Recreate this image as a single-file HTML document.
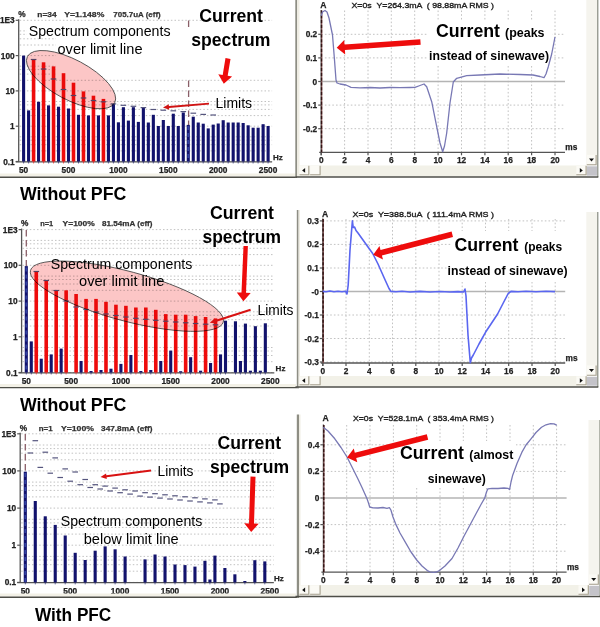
<!DOCTYPE html>
<html><head><meta charset="utf-8"><title>Current spectrum with and without PFC</title>
<style>
html,body{margin:0;padding:0;background:#fff;}
body{width:600px;height:627px;overflow:hidden;font-family:"Liberation Sans",sans-serif;}
svg{display:block;filter:blur(0.45px);}
</style></head><body>
<svg width="600" height="627" viewBox="0 0 600 627" font-family="Liberation Sans, sans-serif">
<rect width="600" height="627" fill="#fff"/>
<line x1="19.7" y1="161.5" x2="272.1" y2="161.5" stroke="#c2c2c2" stroke-width="1" stroke-dasharray="1.5 2.1"/>
<line x1="19.7" y1="150.9" x2="272.1" y2="150.9" stroke="#c2c2c2" stroke-width="1" stroke-dasharray="1.5 2.1"/>
<line x1="19.7" y1="144.7" x2="272.1" y2="144.7" stroke="#c2c2c2" stroke-width="1" stroke-dasharray="1.5 2.1"/>
<line x1="19.7" y1="140.2" x2="272.1" y2="140.2" stroke="#c2c2c2" stroke-width="1" stroke-dasharray="1.5 2.1"/>
<line x1="19.7" y1="136.8" x2="272.1" y2="136.8" stroke="#c2c2c2" stroke-width="1" stroke-dasharray="1.5 2.1"/>
<line x1="19.7" y1="126.2" x2="272.1" y2="126.2" stroke="#c2c2c2" stroke-width="1" stroke-dasharray="1.5 2.1"/>
<line x1="19.7" y1="115.6" x2="272.1" y2="115.6" stroke="#c2c2c2" stroke-width="1" stroke-dasharray="1.5 2.1"/>
<line x1="19.7" y1="109.4" x2="272.1" y2="109.4" stroke="#c2c2c2" stroke-width="1" stroke-dasharray="1.5 2.1"/>
<line x1="19.7" y1="104.9" x2="272.1" y2="104.9" stroke="#c2c2c2" stroke-width="1" stroke-dasharray="1.5 2.1"/>
<line x1="19.7" y1="101.5" x2="272.1" y2="101.5" stroke="#c2c2c2" stroke-width="1" stroke-dasharray="1.5 2.1"/>
<line x1="19.7" y1="90.9" x2="272.1" y2="90.9" stroke="#c2c2c2" stroke-width="1" stroke-dasharray="1.5 2.1"/>
<line x1="19.7" y1="80.3" x2="272.1" y2="80.3" stroke="#c2c2c2" stroke-width="1" stroke-dasharray="1.5 2.1"/>
<line x1="19.7" y1="74.1" x2="272.1" y2="74.1" stroke="#c2c2c2" stroke-width="1" stroke-dasharray="1.5 2.1"/>
<line x1="19.7" y1="69.6" x2="272.1" y2="69.6" stroke="#c2c2c2" stroke-width="1" stroke-dasharray="1.5 2.1"/>
<line x1="19.7" y1="66.2" x2="272.1" y2="66.2" stroke="#c2c2c2" stroke-width="1" stroke-dasharray="1.5 2.1"/>
<line x1="19.7" y1="55.6" x2="272.1" y2="55.6" stroke="#c2c2c2" stroke-width="1" stroke-dasharray="1.5 2.1"/>
<line x1="19.7" y1="45.0" x2="272.1" y2="45.0" stroke="#c2c2c2" stroke-width="1" stroke-dasharray="1.5 2.1"/>
<line x1="19.7" y1="38.8" x2="272.1" y2="38.8" stroke="#c2c2c2" stroke-width="1" stroke-dasharray="1.5 2.1"/>
<line x1="19.7" y1="34.3" x2="272.1" y2="34.3" stroke="#c2c2c2" stroke-width="1" stroke-dasharray="1.5 2.1"/>
<line x1="19.7" y1="30.9" x2="272.1" y2="30.9" stroke="#c2c2c2" stroke-width="1" stroke-dasharray="1.5 2.1"/>
<line x1="19.7" y1="20.3" x2="272.1" y2="20.3" stroke="#c2c2c2" stroke-width="1" stroke-dasharray="1.5 2.1"/>
<line x1="188.6" y1="20.5" x2="188.6" y2="125" stroke="#8a5f68" stroke-width="1.3" stroke-dasharray="6.5 3.5"/>
<rect x="186.5" y="27.5" width="105.5" height="51.5" fill="#fff"/>
<rect x="56" y="24" width="131" height="54.5" fill="#fff"/>
<rect x="27" y="24" width="146" height="14" fill="#fff"/>
<line x1="18.7" y1="19.3" x2="18.7" y2="162.0" stroke="#555" stroke-width="1.3"/>
<line x1="15.7" y1="161.8" x2="272.1" y2="161.8" stroke="#555" stroke-width="1.2"/>
<line x1="15.7" y1="20.3" x2="18.7" y2="20.3" stroke="#555" stroke-width="1.2"/>
<line x1="15.7" y1="55.6" x2="18.7" y2="55.6" stroke="#555" stroke-width="1.2"/>
<line x1="15.7" y1="90.9" x2="18.7" y2="90.9" stroke="#555" stroke-width="1.2"/>
<line x1="15.7" y1="126.2" x2="18.7" y2="126.2" stroke="#555" stroke-width="1.2"/>
<line x1="15.7" y1="161.5" x2="18.7" y2="161.5" stroke="#555" stroke-width="1.2"/>
<text x="14.7" y="23.3" font-size="8.3" font-weight="bold" text-anchor="end" fill="#222"  stroke="#222" stroke-width="0.25">1E3</text>
<text x="14.7" y="58.6" font-size="8.3" font-weight="bold" text-anchor="end" fill="#222"  stroke="#222" stroke-width="0.25">100</text>
<text x="14.7" y="93.9" font-size="8.3" font-weight="bold" text-anchor="end" fill="#222"  stroke="#222" stroke-width="0.25">10</text>
<text x="14.7" y="129.2" font-size="8.3" font-weight="bold" text-anchor="end" fill="#222"  stroke="#222" stroke-width="0.25">1</text>
<text x="14.7" y="164.5" font-size="8.3" font-weight="bold" text-anchor="end" fill="#222"  stroke="#222" stroke-width="0.25">0.1</text>
<text x="23.6" y="173.1" font-size="8.3" font-weight="bold" text-anchor="middle" fill="#222"  stroke="#222" stroke-width="0.25">50</text>
<text x="68.5" y="173.1" font-size="8.3" font-weight="bold" text-anchor="middle" fill="#222"  stroke="#222" stroke-width="0.25">500</text>
<text x="118.4" y="173.1" font-size="8.3" font-weight="bold" text-anchor="middle" fill="#222"  stroke="#222" stroke-width="0.25">1000</text>
<text x="168.3" y="173.1" font-size="8.3" font-weight="bold" text-anchor="middle" fill="#222"  stroke="#222" stroke-width="0.25">1500</text>
<text x="218.2" y="173.1" font-size="8.3" font-weight="bold" text-anchor="middle" fill="#222"  stroke="#222" stroke-width="0.25">2000</text>
<text x="268.1" y="173.1" font-size="8.3" font-weight="bold" text-anchor="middle" fill="#222"  stroke="#222" stroke-width="0.25">2500</text>
<text x="277.8" y="159.7" font-size="8" font-weight="bold" text-anchor="middle" fill="#222"  stroke="#222" stroke-width="0.25">Hz</text>
<text x="18.2" y="17.1" font-size="8.3" font-weight="bold" text-anchor="start" fill="#222"  stroke="#222" stroke-width="0.25">%</text>
<text x="37.3" y="17.0" font-size="8" font-weight="bold" text-anchor="start" fill="#333" textLength="19.4" lengthAdjust="spacingAndGlyphs"  stroke="#333" stroke-width="0.25">n=34</text>
<text x="64.3" y="17.0" font-size="8" font-weight="bold" text-anchor="start" fill="#333" textLength="40.0" lengthAdjust="spacingAndGlyphs"  stroke="#333" stroke-width="0.25">Y=1.148%</text>
<text x="113.3" y="17.0" font-size="8" font-weight="bold" text-anchor="start" fill="#333" textLength="47.4" lengthAdjust="spacingAndGlyphs"  stroke="#333" stroke-width="0.25">705.7uA (eff)</text>
<rect x="22.05" y="55.6" width="3.1" height="105.9" fill="#12126c"/>
<line x1="23.6" y1="161.5" x2="23.6" y2="163.5" stroke="#12126c" stroke-width="1" opacity="0.6"/>
<rect x="27.04" y="110.4" width="3.1" height="51.1" fill="#12126c"/>
<line x1="28.6" y1="161.5" x2="28.6" y2="163.5" stroke="#12126c" stroke-width="1" opacity="0.6"/>
<rect x="31.78" y="59.5" width="3.6" height="102.0" fill="#ee0c0c"/>
<line x1="33.6" y1="161.5" x2="33.6" y2="163.5" stroke="#ee0c0c" stroke-width="1" opacity="0.6"/>
<rect x="37.02" y="101.8" width="3.1" height="59.7" fill="#12126c"/>
<line x1="38.6" y1="161.5" x2="38.6" y2="163.5" stroke="#12126c" stroke-width="1" opacity="0.6"/>
<rect x="41.76" y="62.3" width="3.6" height="99.2" fill="#ee0c0c"/>
<line x1="43.6" y1="161.5" x2="43.6" y2="163.5" stroke="#ee0c0c" stroke-width="1" opacity="0.6"/>
<rect x="47.00" y="105.4" width="3.1" height="56.1" fill="#12126c"/>
<line x1="48.6" y1="161.5" x2="48.6" y2="163.5" stroke="#12126c" stroke-width="1" opacity="0.6"/>
<rect x="51.74" y="66.4" width="3.6" height="95.1" fill="#ee0c0c"/>
<line x1="53.5" y1="161.5" x2="53.5" y2="163.5" stroke="#ee0c0c" stroke-width="1" opacity="0.6"/>
<rect x="56.98" y="106.7" width="3.1" height="54.8" fill="#12126c"/>
<line x1="58.5" y1="161.5" x2="58.5" y2="163.5" stroke="#12126c" stroke-width="1" opacity="0.6"/>
<rect x="61.72" y="73.2" width="3.6" height="88.3" fill="#ee0c0c"/>
<line x1="63.5" y1="161.5" x2="63.5" y2="163.5" stroke="#ee0c0c" stroke-width="1" opacity="0.6"/>
<rect x="66.96" y="108.5" width="3.1" height="53.0" fill="#12126c"/>
<line x1="68.5" y1="161.5" x2="68.5" y2="163.5" stroke="#12126c" stroke-width="1" opacity="0.6"/>
<rect x="71.70" y="82.7" width="3.6" height="78.8" fill="#ee0c0c"/>
<line x1="73.5" y1="161.5" x2="73.5" y2="163.5" stroke="#ee0c0c" stroke-width="1" opacity="0.6"/>
<rect x="76.94" y="114.8" width="3.1" height="46.7" fill="#12126c"/>
<line x1="78.5" y1="161.5" x2="78.5" y2="163.5" stroke="#12126c" stroke-width="1" opacity="0.6"/>
<rect x="81.68" y="91.4" width="3.6" height="70.1" fill="#ee0c0c"/>
<line x1="83.5" y1="161.5" x2="83.5" y2="163.5" stroke="#ee0c0c" stroke-width="1" opacity="0.6"/>
<rect x="86.92" y="115.4" width="3.1" height="46.1" fill="#12126c"/>
<line x1="88.5" y1="161.5" x2="88.5" y2="163.5" stroke="#12126c" stroke-width="1" opacity="0.6"/>
<rect x="91.66" y="95.7" width="3.6" height="65.8" fill="#ee0c0c"/>
<line x1="93.5" y1="161.5" x2="93.5" y2="163.5" stroke="#ee0c0c" stroke-width="1" opacity="0.6"/>
<rect x="96.90" y="115.4" width="3.1" height="46.1" fill="#12126c"/>
<line x1="98.5" y1="161.5" x2="98.5" y2="163.5" stroke="#12126c" stroke-width="1" opacity="0.6"/>
<rect x="101.64" y="98.9" width="3.6" height="62.6" fill="#ee0c0c"/>
<line x1="103.4" y1="161.5" x2="103.4" y2="163.5" stroke="#ee0c0c" stroke-width="1" opacity="0.6"/>
<rect x="106.88" y="115.4" width="3.1" height="46.1" fill="#12126c"/>
<line x1="108.4" y1="161.5" x2="108.4" y2="163.5" stroke="#12126c" stroke-width="1" opacity="0.6"/>
<rect x="111.87" y="103.9" width="3.1" height="57.6" fill="#12126c"/>
<line x1="113.4" y1="161.5" x2="113.4" y2="163.5" stroke="#12126c" stroke-width="1" opacity="0.6"/>
<rect x="116.86" y="122.3" width="3.1" height="39.2" fill="#12126c"/>
<line x1="118.4" y1="161.5" x2="118.4" y2="163.5" stroke="#12126c" stroke-width="1" opacity="0.6"/>
<rect x="121.85" y="107.2" width="3.1" height="54.3" fill="#12126c"/>
<line x1="123.4" y1="161.5" x2="123.4" y2="163.5" stroke="#12126c" stroke-width="1" opacity="0.6"/>
<rect x="126.84" y="120.6" width="3.1" height="40.9" fill="#12126c"/>
<line x1="128.4" y1="161.5" x2="128.4" y2="163.5" stroke="#12126c" stroke-width="1" opacity="0.6"/>
<rect x="131.83" y="107.2" width="3.1" height="54.3" fill="#12126c"/>
<line x1="133.4" y1="161.5" x2="133.4" y2="163.5" stroke="#12126c" stroke-width="1" opacity="0.6"/>
<rect x="136.82" y="121.9" width="3.1" height="39.6" fill="#12126c"/>
<line x1="138.4" y1="161.5" x2="138.4" y2="163.5" stroke="#12126c" stroke-width="1" opacity="0.6"/>
<rect x="141.81" y="107.8" width="3.1" height="53.7" fill="#12126c"/>
<line x1="143.4" y1="161.5" x2="143.4" y2="163.5" stroke="#12126c" stroke-width="1" opacity="0.6"/>
<rect x="146.80" y="122.5" width="3.1" height="39.0" fill="#12126c"/>
<line x1="148.3" y1="161.5" x2="148.3" y2="163.5" stroke="#12126c" stroke-width="1" opacity="0.6"/>
<rect x="151.79" y="114.8" width="3.1" height="46.7" fill="#12126c"/>
<line x1="153.3" y1="161.5" x2="153.3" y2="163.5" stroke="#12126c" stroke-width="1" opacity="0.6"/>
<rect x="156.78" y="126.0" width="3.1" height="35.5" fill="#12126c"/>
<line x1="158.3" y1="161.5" x2="158.3" y2="163.5" stroke="#12126c" stroke-width="1" opacity="0.6"/>
<rect x="161.77" y="120.0" width="3.1" height="41.5" fill="#12126c"/>
<line x1="163.3" y1="161.5" x2="163.3" y2="163.5" stroke="#12126c" stroke-width="1" opacity="0.6"/>
<rect x="166.76" y="126.0" width="3.1" height="35.5" fill="#12126c"/>
<line x1="168.3" y1="161.5" x2="168.3" y2="163.5" stroke="#12126c" stroke-width="1" opacity="0.6"/>
<rect x="171.75" y="113.7" width="3.1" height="47.8" fill="#12126c"/>
<line x1="173.3" y1="161.5" x2="173.3" y2="163.5" stroke="#12126c" stroke-width="1" opacity="0.6"/>
<rect x="176.74" y="126.0" width="3.1" height="35.5" fill="#12126c"/>
<line x1="178.3" y1="161.5" x2="178.3" y2="163.5" stroke="#12126c" stroke-width="1" opacity="0.6"/>
<rect x="181.73" y="112.5" width="3.1" height="49.0" fill="#12126c"/>
<line x1="183.3" y1="161.5" x2="183.3" y2="163.5" stroke="#12126c" stroke-width="1" opacity="0.6"/>
<rect x="186.72" y="124.9" width="3.1" height="36.6" fill="#12126c"/>
<line x1="188.3" y1="161.5" x2="188.3" y2="163.5" stroke="#12126c" stroke-width="1" opacity="0.6"/>
<rect x="191.71" y="116.7" width="3.1" height="44.8" fill="#12126c"/>
<line x1="193.3" y1="161.5" x2="193.3" y2="163.5" stroke="#12126c" stroke-width="1" opacity="0.6"/>
<rect x="196.70" y="122.5" width="3.1" height="39.0" fill="#12126c"/>
<line x1="198.2" y1="161.5" x2="198.2" y2="163.5" stroke="#12126c" stroke-width="1" opacity="0.6"/>
<rect x="201.69" y="123.7" width="3.1" height="37.8" fill="#12126c"/>
<line x1="203.2" y1="161.5" x2="203.2" y2="163.5" stroke="#12126c" stroke-width="1" opacity="0.6"/>
<rect x="206.68" y="128.4" width="3.1" height="33.1" fill="#12126c"/>
<line x1="208.2" y1="161.5" x2="208.2" y2="163.5" stroke="#12126c" stroke-width="1" opacity="0.6"/>
<rect x="211.67" y="124.6" width="3.1" height="36.9" fill="#12126c"/>
<line x1="213.2" y1="161.5" x2="213.2" y2="163.5" stroke="#12126c" stroke-width="1" opacity="0.6"/>
<rect x="216.66" y="123.5" width="3.1" height="38.0" fill="#12126c"/>
<line x1="218.2" y1="161.5" x2="218.2" y2="163.5" stroke="#12126c" stroke-width="1" opacity="0.6"/>
<rect x="221.65" y="120.2" width="3.1" height="41.3" fill="#12126c"/>
<line x1="223.2" y1="161.5" x2="223.2" y2="163.5" stroke="#12126c" stroke-width="1" opacity="0.6"/>
<rect x="226.64" y="122.5" width="3.1" height="39.0" fill="#12126c"/>
<line x1="228.2" y1="161.5" x2="228.2" y2="163.5" stroke="#12126c" stroke-width="1" opacity="0.6"/>
<rect x="231.63" y="122.5" width="3.1" height="39.0" fill="#12126c"/>
<line x1="233.2" y1="161.5" x2="233.2" y2="163.5" stroke="#12126c" stroke-width="1" opacity="0.6"/>
<rect x="236.62" y="122.5" width="3.1" height="39.0" fill="#12126c"/>
<line x1="238.2" y1="161.5" x2="238.2" y2="163.5" stroke="#12126c" stroke-width="1" opacity="0.6"/>
<rect x="241.61" y="123.0" width="3.1" height="38.5" fill="#12126c"/>
<line x1="243.2" y1="161.5" x2="243.2" y2="163.5" stroke="#12126c" stroke-width="1" opacity="0.6"/>
<rect x="246.60" y="125.3" width="3.1" height="36.2" fill="#12126c"/>
<line x1="248.2" y1="161.5" x2="248.2" y2="163.5" stroke="#12126c" stroke-width="1" opacity="0.6"/>
<rect x="251.59" y="127.7" width="3.1" height="33.8" fill="#12126c"/>
<line x1="253.1" y1="161.5" x2="253.1" y2="163.5" stroke="#12126c" stroke-width="1" opacity="0.6"/>
<rect x="256.58" y="127.7" width="3.1" height="33.8" fill="#12126c"/>
<line x1="258.1" y1="161.5" x2="258.1" y2="163.5" stroke="#12126c" stroke-width="1" opacity="0.6"/>
<rect x="261.57" y="124.2" width="3.1" height="37.3" fill="#12126c"/>
<line x1="263.1" y1="161.5" x2="263.1" y2="163.5" stroke="#12126c" stroke-width="1" opacity="0.6"/>
<rect x="266.56" y="126.0" width="3.1" height="35.5" fill="#12126c"/>
<line x1="268.1" y1="161.5" x2="268.1" y2="163.5" stroke="#12126c" stroke-width="1" opacity="0.6"/>
<line x1="188.3" y1="126" x2="188.3" y2="161.5" stroke="#3c50b0" stroke-width="1.7" stroke-dasharray="4 3" opacity="0.8"/>
<line x1="30.8" y1="59.5" x2="36.4" y2="59.5" stroke="#55557e" stroke-width="1.2"/>
<line x1="40.8" y1="69.0" x2="46.4" y2="69.0" stroke="#55557e" stroke-width="1.2"/>
<line x1="50.7" y1="79.0" x2="56.3" y2="79.0" stroke="#55557e" stroke-width="1.2"/>
<line x1="60.7" y1="89.5" x2="66.3" y2="89.5" stroke="#55557e" stroke-width="1.2"/>
<line x1="70.7" y1="95.5" x2="76.3" y2="95.5" stroke="#55557e" stroke-width="1.2"/>
<line x1="80.7" y1="98.0" x2="86.3" y2="98.0" stroke="#55557e" stroke-width="1.2"/>
<line x1="90.7" y1="100.5" x2="96.3" y2="100.5" stroke="#55557e" stroke-width="1.2"/>
<line x1="100.6" y1="101.8" x2="106.2" y2="101.8" stroke="#55557e" stroke-width="1.2"/>
<line x1="110.6" y1="103.9" x2="116.2" y2="103.9" stroke="#55557e" stroke-width="1.2"/>
<line x1="120.6" y1="105.3" x2="126.2" y2="105.3" stroke="#55557e" stroke-width="1.2"/>
<line x1="130.6" y1="106.3" x2="136.2" y2="106.3" stroke="#55557e" stroke-width="1.2"/>
<line x1="140.6" y1="107.6" x2="146.2" y2="107.6" stroke="#55557e" stroke-width="1.2"/>
<line x1="150.5" y1="109.5" x2="156.1" y2="109.5" stroke="#55557e" stroke-width="1.2"/>
<line x1="160.5" y1="110.2" x2="166.1" y2="110.2" stroke="#55557e" stroke-width="1.2"/>
<line x1="170.5" y1="110.8" x2="176.1" y2="110.8" stroke="#55557e" stroke-width="1.2"/>
<line x1="180.5" y1="111.6" x2="186.1" y2="111.6" stroke="#55557e" stroke-width="1.2"/>
<line x1="190.5" y1="113.2" x2="196.1" y2="113.2" stroke="#55557e" stroke-width="1.2"/>
<line x1="200.4" y1="114.4" x2="206.0" y2="114.4" stroke="#55557e" stroke-width="1.2"/>
<line x1="210.4" y1="115.0" x2="216.0" y2="115.0" stroke="#55557e" stroke-width="1.2"/>
<ellipse cx="71.05" cy="79.65" rx="49.4" ry="20" transform="rotate(28 71.05 79.65)" fill="#fcc6c6" stroke="#444" stroke-width="0.8" style="mix-blend-mode:multiply"/>
<text x="199.3" y="21.5" font-size="17.7" font-weight="bold" text-anchor="start" fill="#000" textLength="63.7" lengthAdjust="spacingAndGlyphs" >Current</text>
<text x="191.3" y="46.4" font-size="17.7" font-weight="bold" text-anchor="start" fill="#000" textLength="79.2" lengthAdjust="spacingAndGlyphs" >spectrum</text>
<text x="28.8" y="35.8" font-size="14" font-weight="normal" text-anchor="start" fill="#000" textLength="141.7" lengthAdjust="spacingAndGlyphs" >Spectrum components</text>
<text x="57.5" y="54.1" font-size="14" font-weight="normal" text-anchor="start" fill="#000" textLength="85" lengthAdjust="spacingAndGlyphs" >over limit line</text>
<text x="215.5" y="108.3" font-size="14" font-weight="normal" text-anchor="start" fill="#000" textLength="36.5" lengthAdjust="spacingAndGlyphs" >Limits</text>
<polygon points="225.5,58.1 222.7,75.0 218.3,74.3 223.8,83.8 232.1,76.6 227.7,75.8 230.5,58.9" fill="#ee0c0c" stroke="none"/>
<polygon points="208.9,102.7 168.9,106.0 168.7,104.3 163.0,107.5 169.2,109.7 169.1,107.9 209.1,104.5" fill="#d01414" stroke="none"/>
<text x="20" y="200" font-size="17.5" font-weight="bold" text-anchor="start" fill="#000" textLength="106.3" lengthAdjust="spacingAndGlyphs" >Without PFC</text>
<rect x="0" y="173.5" width="296" height="3.2" fill="#f3f1e7"/>
<line x1="0" y1="177.2" x2="297" y2="177.2" stroke="#4e4e48" stroke-width="1.4"/>
<rect x="295.3" y="0" width="1.9" height="177.5" fill="#8e8e84"/>
<rect x="297.2" y="0" width="2.3" height="177.5" fill="#efede3"/>
<line x1="344.6" y1="10.5" x2="344.6" y2="152.3" stroke="#c2c2c2" stroke-width="1" stroke-dasharray="1.6 2.1"/>
<line x1="368.0" y1="10.5" x2="368.0" y2="152.3" stroke="#c2c2c2" stroke-width="1" stroke-dasharray="1.6 2.1"/>
<line x1="391.3" y1="10.5" x2="391.3" y2="152.3" stroke="#c2c2c2" stroke-width="1" stroke-dasharray="1.6 2.1"/>
<line x1="414.7" y1="10.5" x2="414.7" y2="152.3" stroke="#c2c2c2" stroke-width="1" stroke-dasharray="1.6 2.1"/>
<line x1="438.1" y1="10.5" x2="438.1" y2="152.3" stroke="#c2c2c2" stroke-width="1" stroke-dasharray="1.6 2.1"/>
<line x1="461.5" y1="10.5" x2="461.5" y2="152.3" stroke="#c2c2c2" stroke-width="1" stroke-dasharray="1.6 2.1"/>
<line x1="484.9" y1="10.5" x2="484.9" y2="152.3" stroke="#c2c2c2" stroke-width="1" stroke-dasharray="1.6 2.1"/>
<line x1="508.2" y1="10.5" x2="508.2" y2="152.3" stroke="#c2c2c2" stroke-width="1" stroke-dasharray="1.6 2.1"/>
<line x1="531.6" y1="10.5" x2="531.6" y2="152.3" stroke="#c2c2c2" stroke-width="1" stroke-dasharray="1.6 2.1"/>
<line x1="555.0" y1="10.5" x2="555.0" y2="152.3" stroke="#c2c2c2" stroke-width="1" stroke-dasharray="1.6 2.1"/>
<line x1="321.2" y1="34.3" x2="565.0" y2="34.3" stroke="#c2c2c2" stroke-width="1" stroke-dasharray="1.6 2.1"/>
<line x1="321.2" y1="57.9" x2="565.0" y2="57.9" stroke="#c2c2c2" stroke-width="1" stroke-dasharray="1.6 2.1"/>
<line x1="321.2" y1="105.1" x2="565.0" y2="105.1" stroke="#c2c2c2" stroke-width="1" stroke-dasharray="1.6 2.1"/>
<line x1="321.2" y1="128.7" x2="565.0" y2="128.7" stroke="#c2c2c2" stroke-width="1" stroke-dasharray="1.6 2.1"/>
<rect x="427" y="21" width="125" height="45" fill="#fff"/>
<line x1="321.2" y1="81.5" x2="565.0" y2="81.5" stroke="#b4b4b4" stroke-width="1.4"/>
<line x1="321.2" y1="10.0" x2="321.2" y2="155.3" stroke="#555" stroke-width="1.3"/>
<line x1="319.2" y1="152.3" x2="565.0" y2="152.3" stroke="#555" stroke-width="1.3"/>
<line x1="321.2" y1="152.3" x2="321.2" y2="155.3" stroke="#555" stroke-width="1.2"/>
<text x="321.2" y="163.3" font-size="8.3" font-weight="bold" text-anchor="middle" fill="#222"  stroke="#222" stroke-width="0.25">0</text>
<line x1="344.6" y1="152.3" x2="344.6" y2="155.3" stroke="#555" stroke-width="1.2"/>
<text x="344.6" y="163.3" font-size="8.3" font-weight="bold" text-anchor="middle" fill="#222"  stroke="#222" stroke-width="0.25">2</text>
<line x1="368.0" y1="152.3" x2="368.0" y2="155.3" stroke="#555" stroke-width="1.2"/>
<text x="368.0" y="163.3" font-size="8.3" font-weight="bold" text-anchor="middle" fill="#222"  stroke="#222" stroke-width="0.25">4</text>
<line x1="391.3" y1="152.3" x2="391.3" y2="155.3" stroke="#555" stroke-width="1.2"/>
<text x="391.3" y="163.3" font-size="8.3" font-weight="bold" text-anchor="middle" fill="#222"  stroke="#222" stroke-width="0.25">6</text>
<line x1="414.7" y1="152.3" x2="414.7" y2="155.3" stroke="#555" stroke-width="1.2"/>
<text x="414.7" y="163.3" font-size="8.3" font-weight="bold" text-anchor="middle" fill="#222"  stroke="#222" stroke-width="0.25">8</text>
<line x1="438.1" y1="152.3" x2="438.1" y2="155.3" stroke="#555" stroke-width="1.2"/>
<text x="438.1" y="163.3" font-size="8.3" font-weight="bold" text-anchor="middle" fill="#222"  stroke="#222" stroke-width="0.25">10</text>
<line x1="461.5" y1="152.3" x2="461.5" y2="155.3" stroke="#555" stroke-width="1.2"/>
<text x="461.5" y="163.3" font-size="8.3" font-weight="bold" text-anchor="middle" fill="#222"  stroke="#222" stroke-width="0.25">12</text>
<line x1="484.9" y1="152.3" x2="484.9" y2="155.3" stroke="#555" stroke-width="1.2"/>
<text x="484.9" y="163.3" font-size="8.3" font-weight="bold" text-anchor="middle" fill="#222"  stroke="#222" stroke-width="0.25">14</text>
<line x1="508.2" y1="152.3" x2="508.2" y2="155.3" stroke="#555" stroke-width="1.2"/>
<text x="508.2" y="163.3" font-size="8.3" font-weight="bold" text-anchor="middle" fill="#222"  stroke="#222" stroke-width="0.25">16</text>
<line x1="531.6" y1="152.3" x2="531.6" y2="155.3" stroke="#555" stroke-width="1.2"/>
<text x="531.6" y="163.3" font-size="8.3" font-weight="bold" text-anchor="middle" fill="#222"  stroke="#222" stroke-width="0.25">18</text>
<line x1="555.0" y1="152.3" x2="555.0" y2="155.3" stroke="#555" stroke-width="1.2"/>
<text x="555.0" y="163.3" font-size="8.3" font-weight="bold" text-anchor="middle" fill="#222"  stroke="#222" stroke-width="0.25">20</text>
<line x1="318.2" y1="34.3" x2="321.2" y2="34.3" stroke="#555" stroke-width="1.2"/>
<text x="317.2" y="37.3" font-size="8.3" font-weight="bold" text-anchor="end" fill="#222"  stroke="#222" stroke-width="0.25">0.2</text>
<line x1="318.2" y1="57.9" x2="321.2" y2="57.9" stroke="#555" stroke-width="1.2"/>
<text x="317.2" y="60.9" font-size="8.3" font-weight="bold" text-anchor="end" fill="#222"  stroke="#222" stroke-width="0.25">0.1</text>
<line x1="318.2" y1="81.5" x2="321.2" y2="81.5" stroke="#555" stroke-width="1.2"/>
<text x="317.2" y="84.5" font-size="8.3" font-weight="bold" text-anchor="end" fill="#222"  stroke="#222" stroke-width="0.25">0</text>
<line x1="318.2" y1="105.1" x2="321.2" y2="105.1" stroke="#555" stroke-width="1.2"/>
<text x="317.2" y="108.1" font-size="8.3" font-weight="bold" text-anchor="end" fill="#222"  stroke="#222" stroke-width="0.25">-0.1</text>
<line x1="318.2" y1="128.7" x2="321.2" y2="128.7" stroke="#555" stroke-width="1.2"/>
<text x="317.2" y="131.7" font-size="8.3" font-weight="bold" text-anchor="end" fill="#222"  stroke="#222" stroke-width="0.25">-0.2</text>
<text x="571.3" y="150.1" font-size="8.3" font-weight="bold" text-anchor="middle" fill="#222"  stroke="#222" stroke-width="0.25">ms</text>
<text x="323.4" y="7.5" font-size="8.6" font-weight="bold" text-anchor="middle" fill="#222"  stroke="#222" stroke-width="0.25">A</text>
<text x="351.5" y="7.5" font-size="8" font-weight="normal" text-anchor="start" fill="#222" textLength="142.5" lengthAdjust="spacingAndGlyphs" xml:space="preserve" stroke="#222" stroke-width="0.35">X=0s  Y=264.3mA  ( 98.88mA RMS )</text>
<line x1="321.7" y1="10.5" x2="321.7" y2="152.3" stroke="#7c4a4a" stroke-width="1.2"/>
<line x1="321.5" y1="10.5" x2="321.5" y2="152.3" stroke="#331414" stroke-width="1.4" stroke-dasharray="3 1.8"/>
<polyline points="321.3,15.8 322.5,12.0 325.0,10.5 327.0,12.0 329.0,18.0 332.5,35.0 334.5,60.0 336.0,80.0 337.0,83.0 340.0,84.0 346.0,85.0 351.0,87.3 360.0,87.8 370.0,87.5 380.0,88.0 390.0,87.5 400.0,87.7 410.0,87.5 415.0,87.3 420.0,85.5 424.0,84.0 426.7,86.7 431.7,101.7 436.7,126.7 440.0,143.0 442.7,151.7 444.5,146.0 446.7,133.0 450.0,103.0 453.3,82.0 456.7,78.3 466.7,75.7 480.0,75.0 500.0,74.0 520.0,74.5 533.0,75.0 540.0,76.5 544.0,77.7 546.0,74.0 548.3,66.7 551.7,54.0 555.0,37.0" fill="none" stroke="#7878b4" stroke-width="1.3" stroke-linejoin="round"/>
<rect x="299.5" y="165.5" width="287.3" height="11" fill="#f2f1e8"/>
<rect x="299.5" y="165.8" width="9.3" height="9.0" fill="#fbfaf5"/>
<path d="M308.8,165.8 V174.8 H299.5" fill="none" stroke="#a59f8e" stroke-width="1.1"/>
<polygon points="305.1,168.1 305.1,172.7 302.1,170.4" fill="#111"/>
<rect x="310.1" y="165.8" width="10.0" height="9.0" fill="#fbfaf5"/>
<path d="M320.1,165.8 V174.8 H310.1" fill="none" stroke="#a59f8e" stroke-width="1.1"/>
<rect x="576.3" y="165.8" width="9.8" height="9.0" fill="#fbfaf5"/>
<path d="M586.1,165.8 V174.8 H576.3" fill="none" stroke="#a59f8e" stroke-width="1.1"/>
<polygon points="579.8,168.1 579.8,172.7 582.8,170.4" fill="#111"/>
<rect x="586.3" y="0" width="11.5" height="165.5" fill="#f5f4ee"/>
<rect x="586.8" y="154.9" width="9.3" height="9.8" fill="#fbfaf5"/>
<path d="M596.1,154.9 V164.7 H586.8" fill="none" stroke="#a59f8e" stroke-width="1.1"/>
<polygon points="589.0,158.5 594.0,158.5 591.5,161.5" fill="#111"/>
<rect x="587.0" y="166.3" width="10" height="9.4" fill="#c4c3c9"/>
<line x1="597.8" y1="0" x2="597.8" y2="177.0" stroke="#7d8176" stroke-width="1.1"/>
<line x1="295.5" y1="177.0" x2="598.3" y2="177.0" stroke="#4e4e48" stroke-width="1.4"/>
<text x="436" y="36.5" font-size="17.8" font-weight="bold" text-anchor="start" fill="#000" textLength="64" lengthAdjust="spacingAndGlyphs" >Current</text>
<text x="505" y="36.5" font-size="13.3" font-weight="bold" text-anchor="start" fill="#000" textLength="39.5" lengthAdjust="spacingAndGlyphs" >(peaks</text>
<text x="429" y="60" font-size="13.3" font-weight="bold" text-anchor="start" fill="#000" textLength="120" lengthAdjust="spacingAndGlyphs" >instead of sinewave)</text>
<polygon points="420.3,39.2 344.5,44.5 344.2,40.0 336.7,47.8 345.2,54.5 344.9,50.0 420.7,44.8" fill="#ee0c0c" stroke="none"/>
<line x1="22.6" y1="372.5" x2="274.3" y2="372.5" stroke="#c2c2c2" stroke-width="1" stroke-dasharray="1.5 2.1"/>
<line x1="22.6" y1="361.7" x2="274.3" y2="361.7" stroke="#c2c2c2" stroke-width="1" stroke-dasharray="1.5 2.1"/>
<line x1="22.6" y1="355.5" x2="274.3" y2="355.5" stroke="#c2c2c2" stroke-width="1" stroke-dasharray="1.5 2.1"/>
<line x1="22.6" y1="351.0" x2="274.3" y2="351.0" stroke="#c2c2c2" stroke-width="1" stroke-dasharray="1.5 2.1"/>
<line x1="22.6" y1="347.5" x2="274.3" y2="347.5" stroke="#c2c2c2" stroke-width="1" stroke-dasharray="1.5 2.1"/>
<line x1="22.6" y1="336.8" x2="274.3" y2="336.8" stroke="#c2c2c2" stroke-width="1" stroke-dasharray="1.5 2.1"/>
<line x1="22.6" y1="326.0" x2="274.3" y2="326.0" stroke="#c2c2c2" stroke-width="1" stroke-dasharray="1.5 2.1"/>
<line x1="22.6" y1="319.7" x2="274.3" y2="319.7" stroke="#c2c2c2" stroke-width="1" stroke-dasharray="1.5 2.1"/>
<line x1="22.6" y1="315.3" x2="274.3" y2="315.3" stroke="#c2c2c2" stroke-width="1" stroke-dasharray="1.5 2.1"/>
<line x1="22.6" y1="311.8" x2="274.3" y2="311.8" stroke="#c2c2c2" stroke-width="1" stroke-dasharray="1.5 2.1"/>
<line x1="22.6" y1="301.1" x2="274.3" y2="301.1" stroke="#c2c2c2" stroke-width="1" stroke-dasharray="1.5 2.1"/>
<line x1="22.6" y1="290.3" x2="274.3" y2="290.3" stroke="#c2c2c2" stroke-width="1" stroke-dasharray="1.5 2.1"/>
<line x1="22.6" y1="284.0" x2="274.3" y2="284.0" stroke="#c2c2c2" stroke-width="1" stroke-dasharray="1.5 2.1"/>
<line x1="22.6" y1="279.5" x2="274.3" y2="279.5" stroke="#c2c2c2" stroke-width="1" stroke-dasharray="1.5 2.1"/>
<line x1="22.6" y1="276.1" x2="274.3" y2="276.1" stroke="#c2c2c2" stroke-width="1" stroke-dasharray="1.5 2.1"/>
<line x1="22.6" y1="265.3" x2="274.3" y2="265.3" stroke="#c2c2c2" stroke-width="1" stroke-dasharray="1.5 2.1"/>
<line x1="22.6" y1="254.6" x2="274.3" y2="254.6" stroke="#c2c2c2" stroke-width="1" stroke-dasharray="1.5 2.1"/>
<line x1="22.6" y1="248.3" x2="274.3" y2="248.3" stroke="#c2c2c2" stroke-width="1" stroke-dasharray="1.5 2.1"/>
<line x1="22.6" y1="243.8" x2="274.3" y2="243.8" stroke="#c2c2c2" stroke-width="1" stroke-dasharray="1.5 2.1"/>
<line x1="22.6" y1="240.4" x2="274.3" y2="240.4" stroke="#c2c2c2" stroke-width="1" stroke-dasharray="1.5 2.1"/>
<line x1="22.6" y1="229.6" x2="274.3" y2="229.6" stroke="#c2c2c2" stroke-width="1" stroke-dasharray="1.5 2.1"/>
<line x1="26.3" y1="230" x2="26.3" y2="266" stroke="#8a5f68" stroke-width="1.3" stroke-dasharray="6.5 3.5"/>
<line x1="21.6" y1="228.6" x2="21.6" y2="373.0" stroke="#555" stroke-width="1.3"/>
<line x1="18.6" y1="372.8" x2="274.3" y2="372.8" stroke="#555" stroke-width="1.2"/>
<line x1="18.6" y1="229.6" x2="21.6" y2="229.6" stroke="#555" stroke-width="1.2"/>
<line x1="18.6" y1="265.3" x2="21.6" y2="265.3" stroke="#555" stroke-width="1.2"/>
<line x1="18.6" y1="301.1" x2="21.6" y2="301.1" stroke="#555" stroke-width="1.2"/>
<line x1="18.6" y1="336.8" x2="21.6" y2="336.8" stroke="#555" stroke-width="1.2"/>
<line x1="18.6" y1="372.5" x2="21.6" y2="372.5" stroke="#555" stroke-width="1.2"/>
<text x="17.6" y="232.6" font-size="8.3" font-weight="bold" text-anchor="end" fill="#222"  stroke="#222" stroke-width="0.25">1E3</text>
<text x="17.6" y="268.3" font-size="8.3" font-weight="bold" text-anchor="end" fill="#222"  stroke="#222" stroke-width="0.25">100</text>
<text x="17.6" y="304.1" font-size="8.3" font-weight="bold" text-anchor="end" fill="#222"  stroke="#222" stroke-width="0.25">10</text>
<text x="17.6" y="339.8" font-size="8.3" font-weight="bold" text-anchor="end" fill="#222"  stroke="#222" stroke-width="0.25">1</text>
<text x="17.6" y="375.5" font-size="8.3" font-weight="bold" text-anchor="end" fill="#222"  stroke="#222" stroke-width="0.25">0.1</text>
<text x="26.3" y="384.1" font-size="8.3" font-weight="bold" text-anchor="middle" fill="#222"  stroke="#222" stroke-width="0.25">50</text>
<text x="71.1" y="384.1" font-size="8.3" font-weight="bold" text-anchor="middle" fill="#222"  stroke="#222" stroke-width="0.25">500</text>
<text x="120.9" y="384.1" font-size="8.3" font-weight="bold" text-anchor="middle" fill="#222"  stroke="#222" stroke-width="0.25">1000</text>
<text x="170.7" y="384.1" font-size="8.3" font-weight="bold" text-anchor="middle" fill="#222"  stroke="#222" stroke-width="0.25">1500</text>
<text x="220.5" y="384.1" font-size="8.3" font-weight="bold" text-anchor="middle" fill="#222"  stroke="#222" stroke-width="0.25">2000</text>
<text x="270.3" y="384.1" font-size="8.3" font-weight="bold" text-anchor="middle" fill="#222"  stroke="#222" stroke-width="0.25">2500</text>
<text x="280.5" y="370.7" font-size="8" font-weight="bold" text-anchor="middle" fill="#222"  stroke="#222" stroke-width="0.25">Hz</text>
<text x="21.1" y="226.4" font-size="8.3" font-weight="bold" text-anchor="start" fill="#222"  stroke="#222" stroke-width="0.25">%</text>
<text x="40.2" y="226.3" font-size="8" font-weight="bold" text-anchor="start" fill="#333" textLength="13.0" lengthAdjust="spacingAndGlyphs"  stroke="#333" stroke-width="0.25">n=1</text>
<text x="62.6" y="226.3" font-size="8" font-weight="bold" text-anchor="start" fill="#333" textLength="32.2" lengthAdjust="spacingAndGlyphs"  stroke="#333" stroke-width="0.25">Y=100%</text>
<text x="102" y="226.3" font-size="8" font-weight="bold" text-anchor="start" fill="#333" textLength="50.5" lengthAdjust="spacingAndGlyphs"  stroke="#333" stroke-width="0.25">81.54mA (eff)</text>
<rect x="24.75" y="266.1" width="3.1" height="106.4" fill="#12126c"/>
<line x1="26.3" y1="372.5" x2="26.3" y2="374.5" stroke="#12126c" stroke-width="1" opacity="0.6"/>
<rect x="29.73" y="341.4" width="3.1" height="31.1" fill="#12126c"/>
<line x1="31.3" y1="372.5" x2="31.3" y2="374.5" stroke="#12126c" stroke-width="1" opacity="0.6"/>
<rect x="34.46" y="271.0" width="3.6" height="101.5" fill="#ee0c0c"/>
<line x1="36.3" y1="372.5" x2="36.3" y2="374.5" stroke="#ee0c0c" stroke-width="1" opacity="0.6"/>
<rect x="39.69" y="358.7" width="3.1" height="13.8" fill="#12126c"/>
<line x1="41.2" y1="372.5" x2="41.2" y2="374.5" stroke="#12126c" stroke-width="1" opacity="0.6"/>
<rect x="44.42" y="280.5" width="3.6" height="92.0" fill="#ee0c0c"/>
<line x1="46.2" y1="372.5" x2="46.2" y2="374.5" stroke="#ee0c0c" stroke-width="1" opacity="0.6"/>
<rect x="49.65" y="354.4" width="3.1" height="18.1" fill="#12126c"/>
<line x1="51.2" y1="372.5" x2="51.2" y2="374.5" stroke="#12126c" stroke-width="1" opacity="0.6"/>
<rect x="54.38" y="290.3" width="3.6" height="82.2" fill="#ee0c0c"/>
<line x1="56.2" y1="372.5" x2="56.2" y2="374.5" stroke="#ee0c0c" stroke-width="1" opacity="0.6"/>
<rect x="59.61" y="348.6" width="3.1" height="23.9" fill="#12126c"/>
<line x1="61.2" y1="372.5" x2="61.2" y2="374.5" stroke="#12126c" stroke-width="1" opacity="0.6"/>
<rect x="64.34" y="290.3" width="3.6" height="82.2" fill="#ee0c0c"/>
<line x1="66.1" y1="372.5" x2="66.1" y2="374.5" stroke="#ee0c0c" stroke-width="1" opacity="0.6"/>
<rect x="74.30" y="294.0" width="3.6" height="78.5" fill="#ee0c0c"/>
<line x1="76.1" y1="372.5" x2="76.1" y2="374.5" stroke="#ee0c0c" stroke-width="1" opacity="0.6"/>
<rect x="79.53" y="361.0" width="3.1" height="11.5" fill="#12126c"/>
<line x1="81.1" y1="372.5" x2="81.1" y2="374.5" stroke="#12126c" stroke-width="1" opacity="0.6"/>
<rect x="84.26" y="298.9" width="3.6" height="73.6" fill="#ee0c0c"/>
<line x1="86.1" y1="372.5" x2="86.1" y2="374.5" stroke="#ee0c0c" stroke-width="1" opacity="0.6"/>
<rect x="89.49" y="371.0" width="3.1" height="1.5" fill="#12126c"/>
<line x1="91.0" y1="372.5" x2="91.0" y2="374.5" stroke="#12126c" stroke-width="1" opacity="0.6"/>
<rect x="94.22" y="298.9" width="3.6" height="73.6" fill="#ee0c0c"/>
<line x1="96.0" y1="372.5" x2="96.0" y2="374.5" stroke="#ee0c0c" stroke-width="1" opacity="0.6"/>
<rect x="99.45" y="370.0" width="3.1" height="2.5" fill="#12126c"/>
<line x1="101.0" y1="372.5" x2="101.0" y2="374.5" stroke="#12126c" stroke-width="1" opacity="0.6"/>
<rect x="104.18" y="301.8" width="3.6" height="70.7" fill="#ee0c0c"/>
<line x1="106.0" y1="372.5" x2="106.0" y2="374.5" stroke="#ee0c0c" stroke-width="1" opacity="0.6"/>
<rect x="109.41" y="368.7" width="3.1" height="3.8" fill="#12126c"/>
<line x1="111.0" y1="372.5" x2="111.0" y2="374.5" stroke="#12126c" stroke-width="1" opacity="0.6"/>
<rect x="114.14" y="304.7" width="3.6" height="67.8" fill="#ee0c0c"/>
<line x1="115.9" y1="372.5" x2="115.9" y2="374.5" stroke="#ee0c0c" stroke-width="1" opacity="0.6"/>
<rect x="119.37" y="363.9" width="3.1" height="8.6" fill="#12126c"/>
<line x1="120.9" y1="372.5" x2="120.9" y2="374.5" stroke="#12126c" stroke-width="1" opacity="0.6"/>
<rect x="124.10" y="305.8" width="3.6" height="66.7" fill="#ee0c0c"/>
<line x1="125.9" y1="372.5" x2="125.9" y2="374.5" stroke="#ee0c0c" stroke-width="1" opacity="0.6"/>
<rect x="129.33" y="355.0" width="3.1" height="17.5" fill="#12126c"/>
<line x1="130.9" y1="372.5" x2="130.9" y2="374.5" stroke="#12126c" stroke-width="1" opacity="0.6"/>
<rect x="134.06" y="307.5" width="3.6" height="65.0" fill="#ee0c0c"/>
<line x1="135.9" y1="372.5" x2="135.9" y2="374.5" stroke="#ee0c0c" stroke-width="1" opacity="0.6"/>
<rect x="139.29" y="371.0" width="3.1" height="1.5" fill="#12126c"/>
<line x1="140.8" y1="372.5" x2="140.8" y2="374.5" stroke="#12126c" stroke-width="1" opacity="0.6"/>
<rect x="144.02" y="307.5" width="3.6" height="65.0" fill="#ee0c0c"/>
<line x1="145.8" y1="372.5" x2="145.8" y2="374.5" stroke="#ee0c0c" stroke-width="1" opacity="0.6"/>
<rect x="149.25" y="370.0" width="3.1" height="2.5" fill="#12126c"/>
<line x1="150.8" y1="372.5" x2="150.8" y2="374.5" stroke="#12126c" stroke-width="1" opacity="0.6"/>
<rect x="153.98" y="309.8" width="3.6" height="62.7" fill="#ee0c0c"/>
<line x1="155.8" y1="372.5" x2="155.8" y2="374.5" stroke="#ee0c0c" stroke-width="1" opacity="0.6"/>
<rect x="159.21" y="361.0" width="3.1" height="11.5" fill="#12126c"/>
<line x1="160.8" y1="372.5" x2="160.8" y2="374.5" stroke="#12126c" stroke-width="1" opacity="0.6"/>
<rect x="163.94" y="314.1" width="3.6" height="58.4" fill="#ee0c0c"/>
<line x1="165.7" y1="372.5" x2="165.7" y2="374.5" stroke="#ee0c0c" stroke-width="1" opacity="0.6"/>
<rect x="169.17" y="350.6" width="3.1" height="21.9" fill="#12126c"/>
<line x1="170.7" y1="372.5" x2="170.7" y2="374.5" stroke="#12126c" stroke-width="1" opacity="0.6"/>
<rect x="173.90" y="314.7" width="3.6" height="57.8" fill="#ee0c0c"/>
<line x1="175.7" y1="372.5" x2="175.7" y2="374.5" stroke="#ee0c0c" stroke-width="1" opacity="0.6"/>
<rect x="179.13" y="371.2" width="3.1" height="1.3" fill="#12126c"/>
<line x1="180.7" y1="372.5" x2="180.7" y2="374.5" stroke="#12126c" stroke-width="1" opacity="0.6"/>
<rect x="183.86" y="314.7" width="3.6" height="57.8" fill="#ee0c0c"/>
<line x1="185.7" y1="372.5" x2="185.7" y2="374.5" stroke="#ee0c0c" stroke-width="1" opacity="0.6"/>
<rect x="189.09" y="357.2" width="3.1" height="15.3" fill="#12126c"/>
<line x1="190.6" y1="372.5" x2="190.6" y2="374.5" stroke="#12126c" stroke-width="1" opacity="0.6"/>
<rect x="193.82" y="316.1" width="3.6" height="56.4" fill="#ee0c0c"/>
<line x1="195.6" y1="372.5" x2="195.6" y2="374.5" stroke="#ee0c0c" stroke-width="1" opacity="0.6"/>
<rect x="199.05" y="370.7" width="3.1" height="1.8" fill="#12126c"/>
<line x1="200.6" y1="372.5" x2="200.6" y2="374.5" stroke="#12126c" stroke-width="1" opacity="0.6"/>
<rect x="203.78" y="317.0" width="3.6" height="55.5" fill="#ee0c0c"/>
<line x1="205.6" y1="372.5" x2="205.6" y2="374.5" stroke="#ee0c0c" stroke-width="1" opacity="0.6"/>
<rect x="209.01" y="363.0" width="3.1" height="9.5" fill="#12126c"/>
<line x1="210.6" y1="372.5" x2="210.6" y2="374.5" stroke="#12126c" stroke-width="1" opacity="0.6"/>
<rect x="213.74" y="318.4" width="3.6" height="54.1" fill="#ee0c0c"/>
<line x1="215.5" y1="372.5" x2="215.5" y2="374.5" stroke="#ee0c0c" stroke-width="1" opacity="0.6"/>
<rect x="218.97" y="354.4" width="3.1" height="18.1" fill="#12126c"/>
<line x1="220.5" y1="372.5" x2="220.5" y2="374.5" stroke="#12126c" stroke-width="1" opacity="0.6"/>
<rect x="223.95" y="320.7" width="3.1" height="51.8" fill="#12126c"/>
<line x1="225.5" y1="372.5" x2="225.5" y2="374.5" stroke="#12126c" stroke-width="1" opacity="0.6"/>
<rect x="233.91" y="321.3" width="3.1" height="51.2" fill="#12126c"/>
<line x1="235.5" y1="372.5" x2="235.5" y2="374.5" stroke="#12126c" stroke-width="1" opacity="0.6"/>
<rect x="238.89" y="361.0" width="3.1" height="11.5" fill="#12126c"/>
<line x1="240.4" y1="372.5" x2="240.4" y2="374.5" stroke="#12126c" stroke-width="1" opacity="0.6"/>
<rect x="243.87" y="323.6" width="3.1" height="48.9" fill="#12126c"/>
<line x1="245.4" y1="372.5" x2="245.4" y2="374.5" stroke="#12126c" stroke-width="1" opacity="0.6"/>
<rect x="248.85" y="370.7" width="3.1" height="1.8" fill="#12126c"/>
<line x1="250.4" y1="372.5" x2="250.4" y2="374.5" stroke="#12126c" stroke-width="1" opacity="0.6"/>
<rect x="253.83" y="326.2" width="3.1" height="46.3" fill="#12126c"/>
<line x1="255.4" y1="372.5" x2="255.4" y2="374.5" stroke="#12126c" stroke-width="1" opacity="0.6"/>
<rect x="258.81" y="370.7" width="3.1" height="1.8" fill="#12126c"/>
<line x1="260.4" y1="372.5" x2="260.4" y2="374.5" stroke="#12126c" stroke-width="1" opacity="0.6"/>
<rect x="263.79" y="323.3" width="3.1" height="49.2" fill="#12126c"/>
<line x1="265.3" y1="372.5" x2="265.3" y2="374.5" stroke="#12126c" stroke-width="1" opacity="0.6"/>
<line x1="26.3" y1="267.5" x2="26.3" y2="372.5" stroke="#3c50b0" stroke-width="1.7" stroke-dasharray="4 3" opacity="0.8"/>
<line x1="33.5" y1="271.5" x2="39.1" y2="271.5" stroke="#55557e" stroke-width="1.2"/>
<line x1="43.4" y1="280.5" x2="49.0" y2="280.5" stroke="#55557e" stroke-width="1.2"/>
<line x1="53.4" y1="290.5" x2="59.0" y2="290.5" stroke="#55557e" stroke-width="1.2"/>
<line x1="63.3" y1="301.0" x2="68.9" y2="301.0" stroke="#55557e" stroke-width="1.2"/>
<line x1="73.3" y1="307.0" x2="78.9" y2="307.0" stroke="#55557e" stroke-width="1.2"/>
<line x1="83.3" y1="309.5" x2="88.9" y2="309.5" stroke="#55557e" stroke-width="1.2"/>
<line x1="93.2" y1="312.0" x2="98.8" y2="312.0" stroke="#55557e" stroke-width="1.2"/>
<line x1="103.2" y1="314.0" x2="108.8" y2="314.0" stroke="#55557e" stroke-width="1.2"/>
<line x1="113.1" y1="315.5" x2="118.7" y2="315.5" stroke="#55557e" stroke-width="1.2"/>
<line x1="123.1" y1="317.0" x2="128.7" y2="317.0" stroke="#55557e" stroke-width="1.2"/>
<line x1="133.1" y1="318.3" x2="138.7" y2="318.3" stroke="#55557e" stroke-width="1.2"/>
<line x1="143.0" y1="319.3" x2="148.6" y2="319.3" stroke="#55557e" stroke-width="1.2"/>
<line x1="153.0" y1="320.3" x2="158.6" y2="320.3" stroke="#55557e" stroke-width="1.2"/>
<line x1="162.9" y1="321.2" x2="168.5" y2="321.2" stroke="#55557e" stroke-width="1.2"/>
<line x1="172.9" y1="322.0" x2="178.5" y2="322.0" stroke="#55557e" stroke-width="1.2"/>
<line x1="182.9" y1="322.8" x2="188.5" y2="322.8" stroke="#55557e" stroke-width="1.2"/>
<line x1="192.8" y1="323.5" x2="198.4" y2="323.5" stroke="#55557e" stroke-width="1.2"/>
<line x1="202.8" y1="324.2" x2="208.4" y2="324.2" stroke="#55557e" stroke-width="1.2"/>
<line x1="212.7" y1="324.8" x2="218.3" y2="324.8" stroke="#55557e" stroke-width="1.2"/>
<ellipse cx="126.9" cy="296.2" rx="99.8" ry="24.7" transform="rotate(15 126.9 296.2)" fill="#fcc6c6" stroke="#444" stroke-width="0.8" style="mix-blend-mode:multiply"/>
<text x="210" y="219" font-size="17.8" font-weight="bold" text-anchor="start" fill="#000" textLength="64" lengthAdjust="spacingAndGlyphs" >Current</text>
<text x="202.5" y="242.5" font-size="17.8" font-weight="bold" text-anchor="start" fill="#000" textLength="78.5" lengthAdjust="spacingAndGlyphs" >spectrum</text>
<text x="50.8" y="269" font-size="14" font-weight="normal" text-anchor="start" fill="#000" textLength="141.5" lengthAdjust="spacingAndGlyphs" >Spectrum components</text>
<text x="79" y="285.9" font-size="14" font-weight="normal" text-anchor="start" fill="#000" textLength="85.4" lengthAdjust="spacingAndGlyphs" >over limit line</text>
<text x="257.5" y="315" font-size="14" font-weight="normal" text-anchor="start" fill="#000" textLength="36" lengthAdjust="spacingAndGlyphs" >Limits</text>
<polygon points="243.5,245.9 241.5,292.6 236.8,292.4 243.4,301.2 250.7,293.0 246.0,292.8 247.9,246.1" fill="#ee0c0c" stroke="none"/>
<polygon points="250.3,308.8 215.2,320.0 214.7,318.4 209.8,322.8 216.4,323.6 215.8,322.0 250.9,310.8" fill="#d81212" stroke="none"/>
<text x="20" y="410.5" font-size="17.5" font-weight="bold" text-anchor="start" fill="#000" textLength="106.3" lengthAdjust="spacingAndGlyphs" >Without PFC</text>
<rect x="0" y="384" width="296" height="3.2" fill="#f3f1e7"/>
<line x1="0" y1="387.6" x2="299" y2="387.6" stroke="#4e4e48" stroke-width="1.4"/>
<rect x="296.8" y="210" width="1.8" height="178" fill="#8e8e84"/>
<rect x="298.6" y="210" width="1.4" height="178" fill="#efede3"/>
<line x1="346.0" y1="219" x2="346.0" y2="363" stroke="#c2c2c2" stroke-width="1" stroke-dasharray="1.6 2.1"/>
<line x1="369.3" y1="219" x2="369.3" y2="363" stroke="#c2c2c2" stroke-width="1" stroke-dasharray="1.6 2.1"/>
<line x1="392.5" y1="219" x2="392.5" y2="363" stroke="#c2c2c2" stroke-width="1" stroke-dasharray="1.6 2.1"/>
<line x1="415.8" y1="219" x2="415.8" y2="363" stroke="#c2c2c2" stroke-width="1" stroke-dasharray="1.6 2.1"/>
<line x1="439.0" y1="219" x2="439.0" y2="363" stroke="#c2c2c2" stroke-width="1" stroke-dasharray="1.6 2.1"/>
<line x1="462.2" y1="219" x2="462.2" y2="363" stroke="#c2c2c2" stroke-width="1" stroke-dasharray="1.6 2.1"/>
<line x1="485.5" y1="219" x2="485.5" y2="363" stroke="#c2c2c2" stroke-width="1" stroke-dasharray="1.6 2.1"/>
<line x1="508.7" y1="219" x2="508.7" y2="363" stroke="#c2c2c2" stroke-width="1" stroke-dasharray="1.6 2.1"/>
<line x1="532.0" y1="219" x2="532.0" y2="363" stroke="#c2c2c2" stroke-width="1" stroke-dasharray="1.6 2.1"/>
<line x1="555.2" y1="219" x2="555.2" y2="363" stroke="#c2c2c2" stroke-width="1" stroke-dasharray="1.6 2.1"/>
<line x1="322.8" y1="220.9" x2="565.2" y2="220.9" stroke="#c2c2c2" stroke-width="1" stroke-dasharray="1.6 2.1"/>
<line x1="322.8" y1="244.4" x2="565.2" y2="244.4" stroke="#c2c2c2" stroke-width="1" stroke-dasharray="1.6 2.1"/>
<line x1="322.8" y1="268.0" x2="565.2" y2="268.0" stroke="#c2c2c2" stroke-width="1" stroke-dasharray="1.6 2.1"/>
<line x1="322.8" y1="315.0" x2="565.2" y2="315.0" stroke="#c2c2c2" stroke-width="1" stroke-dasharray="1.6 2.1"/>
<line x1="322.8" y1="338.5" x2="565.2" y2="338.5" stroke="#c2c2c2" stroke-width="1" stroke-dasharray="1.6 2.1"/>
<line x1="322.8" y1="362.0" x2="565.2" y2="362.0" stroke="#c2c2c2" stroke-width="1" stroke-dasharray="1.6 2.1"/>
<rect x="452" y="231" width="118" height="51" fill="#fff"/>
<line x1="322.8" y1="291.5" x2="565.2" y2="291.5" stroke="#b4b4b4" stroke-width="1.4"/>
<line x1="322.8" y1="218.5" x2="322.8" y2="366" stroke="#555" stroke-width="1.3"/>
<line x1="320.8" y1="363" x2="565.2" y2="363" stroke="#555" stroke-width="1.3"/>
<line x1="322.8" y1="363" x2="322.8" y2="366" stroke="#555" stroke-width="1.2"/>
<text x="322.8" y="374.0" font-size="8.3" font-weight="bold" text-anchor="middle" fill="#222"  stroke="#222" stroke-width="0.25">0</text>
<line x1="346.0" y1="363" x2="346.0" y2="366" stroke="#555" stroke-width="1.2"/>
<text x="346.0" y="374.0" font-size="8.3" font-weight="bold" text-anchor="middle" fill="#222"  stroke="#222" stroke-width="0.25">2</text>
<line x1="369.3" y1="363" x2="369.3" y2="366" stroke="#555" stroke-width="1.2"/>
<text x="369.3" y="374.0" font-size="8.3" font-weight="bold" text-anchor="middle" fill="#222"  stroke="#222" stroke-width="0.25">4</text>
<line x1="392.5" y1="363" x2="392.5" y2="366" stroke="#555" stroke-width="1.2"/>
<text x="392.5" y="374.0" font-size="8.3" font-weight="bold" text-anchor="middle" fill="#222"  stroke="#222" stroke-width="0.25">6</text>
<line x1="415.8" y1="363" x2="415.8" y2="366" stroke="#555" stroke-width="1.2"/>
<text x="415.8" y="374.0" font-size="8.3" font-weight="bold" text-anchor="middle" fill="#222"  stroke="#222" stroke-width="0.25">8</text>
<line x1="439.0" y1="363" x2="439.0" y2="366" stroke="#555" stroke-width="1.2"/>
<text x="439.0" y="374.0" font-size="8.3" font-weight="bold" text-anchor="middle" fill="#222"  stroke="#222" stroke-width="0.25">10</text>
<line x1="462.2" y1="363" x2="462.2" y2="366" stroke="#555" stroke-width="1.2"/>
<text x="462.2" y="374.0" font-size="8.3" font-weight="bold" text-anchor="middle" fill="#222"  stroke="#222" stroke-width="0.25">12</text>
<line x1="485.5" y1="363" x2="485.5" y2="366" stroke="#555" stroke-width="1.2"/>
<text x="485.5" y="374.0" font-size="8.3" font-weight="bold" text-anchor="middle" fill="#222"  stroke="#222" stroke-width="0.25">14</text>
<line x1="508.7" y1="363" x2="508.7" y2="366" stroke="#555" stroke-width="1.2"/>
<text x="508.7" y="374.0" font-size="8.3" font-weight="bold" text-anchor="middle" fill="#222"  stroke="#222" stroke-width="0.25">16</text>
<line x1="532.0" y1="363" x2="532.0" y2="366" stroke="#555" stroke-width="1.2"/>
<text x="532.0" y="374.0" font-size="8.3" font-weight="bold" text-anchor="middle" fill="#222"  stroke="#222" stroke-width="0.25">18</text>
<line x1="555.2" y1="363" x2="555.2" y2="366" stroke="#555" stroke-width="1.2"/>
<text x="555.2" y="374.0" font-size="8.3" font-weight="bold" text-anchor="middle" fill="#222"  stroke="#222" stroke-width="0.25">20</text>
<line x1="319.8" y1="220.9" x2="322.8" y2="220.9" stroke="#555" stroke-width="1.2"/>
<text x="318.8" y="223.9" font-size="8.3" font-weight="bold" text-anchor="end" fill="#222"  stroke="#222" stroke-width="0.25">0.3</text>
<line x1="319.8" y1="244.4" x2="322.8" y2="244.4" stroke="#555" stroke-width="1.2"/>
<text x="318.8" y="247.4" font-size="8.3" font-weight="bold" text-anchor="end" fill="#222"  stroke="#222" stroke-width="0.25">0.2</text>
<line x1="319.8" y1="268.0" x2="322.8" y2="268.0" stroke="#555" stroke-width="1.2"/>
<text x="318.8" y="271.0" font-size="8.3" font-weight="bold" text-anchor="end" fill="#222"  stroke="#222" stroke-width="0.25">0.1</text>
<line x1="319.8" y1="291.5" x2="322.8" y2="291.5" stroke="#555" stroke-width="1.2"/>
<text x="318.8" y="294.5" font-size="8.3" font-weight="bold" text-anchor="end" fill="#222"  stroke="#222" stroke-width="0.25">-0</text>
<line x1="319.8" y1="315.0" x2="322.8" y2="315.0" stroke="#555" stroke-width="1.2"/>
<text x="318.8" y="318.0" font-size="8.3" font-weight="bold" text-anchor="end" fill="#222"  stroke="#222" stroke-width="0.25">-0.1</text>
<line x1="319.8" y1="338.5" x2="322.8" y2="338.5" stroke="#555" stroke-width="1.2"/>
<text x="318.8" y="341.5" font-size="8.3" font-weight="bold" text-anchor="end" fill="#222"  stroke="#222" stroke-width="0.25">-0.2</text>
<line x1="319.8" y1="362.0" x2="322.8" y2="362.0" stroke="#555" stroke-width="1.2"/>
<text x="318.8" y="365.0" font-size="8.3" font-weight="bold" text-anchor="end" fill="#222"  stroke="#222" stroke-width="0.25">-0.3</text>
<text x="571.5" y="360.8" font-size="8.3" font-weight="bold" text-anchor="middle" fill="#222"  stroke="#222" stroke-width="0.25">ms</text>
<text x="325.0" y="217.0" font-size="8.6" font-weight="bold" text-anchor="middle" fill="#222"  stroke="#222" stroke-width="0.25">A</text>
<text x="352.5" y="217.0" font-size="8" font-weight="normal" text-anchor="start" fill="#222" textLength="141.5" lengthAdjust="spacingAndGlyphs" xml:space="preserve" stroke="#222" stroke-width="0.35">X=0s  Y=388.5uA  ( 111.4mA RMS )</text>
<line x1="323.3" y1="219" x2="323.3" y2="363" stroke="#7c4a4a" stroke-width="1.2"/>
<line x1="323.1" y1="219" x2="323.1" y2="363" stroke="#331414" stroke-width="1.4" stroke-dasharray="3 1.8"/>
<polyline points="322.7,291.4 326.0,291.8 330.0,291.0 334.0,291.8 338.0,291.2 342.0,291.8 345.5,291.2 347.0,294.0 348.2,285.0 350.0,250.0 352.4,220.8 353.2,227.5 354.6,227.0 356.0,230.5 358.0,233.0 363.0,240.0 368.0,247.0 372.7,253.5 378.0,264.0 384.0,277.5 389.0,288.5 390.9,291.4 396.0,291.8 402.0,291.2 410.0,292.0 420.0,291.4 430.0,292.0 440.0,291.5 450.0,292.0 458.0,291.6 463.6,292.0 465.0,289.0 466.0,296.0 468.0,335.0 470.3,362.6 471.5,358.0 473.3,355.0 479.0,344.0 485.5,332.3 491.0,324.0 497.6,314.0 503.0,303.5 508.2,293.5 511.0,291.4 518.0,291.8 526.0,291.2 536.0,291.8 546.0,291.2 555.0,291.6" fill="none" stroke="#5a66f0" stroke-width="1.6" stroke-linejoin="round"/>
<rect x="299.5" y="376" width="287.3" height="10.5" fill="#f2f1e8"/>
<rect x="299.5" y="376.3" width="9.3" height="8.5" fill="#fbfaf5"/>
<path d="M308.8,376.3 V384.8 H299.5" fill="none" stroke="#a59f8e" stroke-width="1.1"/>
<polygon points="305.1,378.3 305.1,382.9 302.1,380.6" fill="#111"/>
<rect x="310.1" y="376.3" width="10.0" height="8.5" fill="#fbfaf5"/>
<path d="M320.1,376.3 V384.8 H310.1" fill="none" stroke="#a59f8e" stroke-width="1.1"/>
<rect x="576.3" y="376.3" width="9.8" height="8.5" fill="#fbfaf5"/>
<path d="M586.1,376.3 V384.8 H576.3" fill="none" stroke="#a59f8e" stroke-width="1.1"/>
<polygon points="579.8,378.3 579.8,382.9 582.8,380.6" fill="#111"/>
<rect x="586.3" y="212" width="11.5" height="164" fill="#f5f4ee"/>
<rect x="586.8" y="365.4" width="9.3" height="9.8" fill="#fbfaf5"/>
<path d="M596.1,365.4 V375.2 H586.8" fill="none" stroke="#a59f8e" stroke-width="1.1"/>
<polygon points="589.0,369.0 594.0,369.0 591.5,372.0" fill="#111"/>
<rect x="587.0" y="376.8" width="10" height="8.9" fill="#c4c3c9"/>
<line x1="597.8" y1="212" x2="597.8" y2="387.0" stroke="#7d8176" stroke-width="1.1"/>
<line x1="295.5" y1="387.0" x2="598.3" y2="387.0" stroke="#4e4e48" stroke-width="1.4"/>
<text x="454.5" y="250.5" font-size="17.8" font-weight="bold" text-anchor="start" fill="#000" textLength="64" lengthAdjust="spacingAndGlyphs" >Current</text>
<text x="524.2" y="250.5" font-size="13.3" font-weight="bold" text-anchor="start" fill="#000" textLength="38" lengthAdjust="spacingAndGlyphs" >(peaks</text>
<text x="447.6" y="274.7" font-size="13.3" font-weight="bold" text-anchor="start" fill="#000" textLength="120" lengthAdjust="spacingAndGlyphs" >instead of sinewave)</text>
<polygon points="451.6,231.5 380.5,250.0 379.5,245.9 373.2,254.8 383.0,259.5 381.9,255.4 453.0,236.9" fill="#ee0c0c" stroke="none"/>
<line x1="21.2" y1="582.4" x2="273.8" y2="582.4" stroke="#c2c2c2" stroke-width="1" stroke-dasharray="1.5 2.1"/>
<line x1="21.2" y1="571.2" x2="273.8" y2="571.2" stroke="#c2c2c2" stroke-width="1" stroke-dasharray="1.5 2.1"/>
<line x1="21.2" y1="564.7" x2="273.8" y2="564.7" stroke="#c2c2c2" stroke-width="1" stroke-dasharray="1.5 2.1"/>
<line x1="21.2" y1="560.0" x2="273.8" y2="560.0" stroke="#c2c2c2" stroke-width="1" stroke-dasharray="1.5 2.1"/>
<line x1="21.2" y1="556.4" x2="273.8" y2="556.4" stroke="#c2c2c2" stroke-width="1" stroke-dasharray="1.5 2.1"/>
<line x1="21.2" y1="545.2" x2="273.8" y2="545.2" stroke="#c2c2c2" stroke-width="1" stroke-dasharray="1.5 2.1"/>
<line x1="21.2" y1="534.1" x2="273.8" y2="534.1" stroke="#c2c2c2" stroke-width="1" stroke-dasharray="1.5 2.1"/>
<line x1="21.2" y1="527.5" x2="273.8" y2="527.5" stroke="#c2c2c2" stroke-width="1" stroke-dasharray="1.5 2.1"/>
<line x1="21.2" y1="522.9" x2="273.8" y2="522.9" stroke="#c2c2c2" stroke-width="1" stroke-dasharray="1.5 2.1"/>
<line x1="21.2" y1="519.3" x2="273.8" y2="519.3" stroke="#c2c2c2" stroke-width="1" stroke-dasharray="1.5 2.1"/>
<line x1="21.2" y1="508.1" x2="273.8" y2="508.1" stroke="#c2c2c2" stroke-width="1" stroke-dasharray="1.5 2.1"/>
<line x1="21.2" y1="496.9" x2="273.8" y2="496.9" stroke="#c2c2c2" stroke-width="1" stroke-dasharray="1.5 2.1"/>
<line x1="21.2" y1="490.4" x2="273.8" y2="490.4" stroke="#c2c2c2" stroke-width="1" stroke-dasharray="1.5 2.1"/>
<line x1="21.2" y1="485.7" x2="273.8" y2="485.7" stroke="#c2c2c2" stroke-width="1" stroke-dasharray="1.5 2.1"/>
<line x1="21.2" y1="482.1" x2="273.8" y2="482.1" stroke="#c2c2c2" stroke-width="1" stroke-dasharray="1.5 2.1"/>
<line x1="21.2" y1="470.9" x2="273.8" y2="470.9" stroke="#c2c2c2" stroke-width="1" stroke-dasharray="1.5 2.1"/>
<line x1="21.2" y1="459.8" x2="273.8" y2="459.8" stroke="#c2c2c2" stroke-width="1" stroke-dasharray="1.5 2.1"/>
<line x1="21.2" y1="453.2" x2="273.8" y2="453.2" stroke="#c2c2c2" stroke-width="1" stroke-dasharray="1.5 2.1"/>
<line x1="21.2" y1="448.6" x2="273.8" y2="448.6" stroke="#c2c2c2" stroke-width="1" stroke-dasharray="1.5 2.1"/>
<line x1="21.2" y1="445.0" x2="273.8" y2="445.0" stroke="#c2c2c2" stroke-width="1" stroke-dasharray="1.5 2.1"/>
<line x1="21.2" y1="433.8" x2="273.8" y2="433.8" stroke="#c2c2c2" stroke-width="1" stroke-dasharray="1.5 2.1"/>
<line x1="25.3" y1="434" x2="25.3" y2="472" stroke="#8a5f68" stroke-width="1.3" stroke-dasharray="6.5 3.5"/>
<line x1="20.2" y1="432.8" x2="20.2" y2="582.9" stroke="#555" stroke-width="1.3"/>
<line x1="17.2" y1="582.6999999999999" x2="273.8" y2="582.6999999999999" stroke="#555" stroke-width="1.2"/>
<line x1="17.2" y1="433.8" x2="20.2" y2="433.8" stroke="#555" stroke-width="1.2"/>
<line x1="17.2" y1="470.9" x2="20.2" y2="470.9" stroke="#555" stroke-width="1.2"/>
<line x1="17.2" y1="508.1" x2="20.2" y2="508.1" stroke="#555" stroke-width="1.2"/>
<line x1="17.2" y1="545.2" x2="20.2" y2="545.2" stroke="#555" stroke-width="1.2"/>
<line x1="17.2" y1="582.4" x2="20.2" y2="582.4" stroke="#555" stroke-width="1.2"/>
<text x="16.2" y="436.8" font-size="8.3" font-weight="bold" text-anchor="end" fill="#222"  stroke="#222" stroke-width="0.25">1E3</text>
<text x="16.2" y="473.9" font-size="8.3" font-weight="bold" text-anchor="end" fill="#222"  stroke="#222" stroke-width="0.25">100</text>
<text x="16.2" y="511.1" font-size="8.3" font-weight="bold" text-anchor="end" fill="#222"  stroke="#222" stroke-width="0.25">10</text>
<text x="16.2" y="548.2" font-size="8.3" font-weight="bold" text-anchor="end" fill="#222"  stroke="#222" stroke-width="0.25">1</text>
<text x="16.2" y="585.4" font-size="8.3" font-weight="bold" text-anchor="end" fill="#222"  stroke="#222" stroke-width="0.25">0.1</text>
<text x="25.3" y="594.0" font-size="8.3" font-weight="bold" text-anchor="middle" fill="#222"  stroke="#222" stroke-width="0.25">50</text>
<text x="70.2" y="594.0" font-size="8.3" font-weight="bold" text-anchor="middle" fill="#222"  stroke="#222" stroke-width="0.25">500</text>
<text x="120.1" y="594.0" font-size="8.3" font-weight="bold" text-anchor="middle" fill="#222"  stroke="#222" stroke-width="0.25">1000</text>
<text x="170.0" y="594.0" font-size="8.3" font-weight="bold" text-anchor="middle" fill="#222"  stroke="#222" stroke-width="0.25">1500</text>
<text x="219.9" y="594.0" font-size="8.3" font-weight="bold" text-anchor="middle" fill="#222"  stroke="#222" stroke-width="0.25">2000</text>
<text x="269.8" y="594.0" font-size="8.3" font-weight="bold" text-anchor="middle" fill="#222"  stroke="#222" stroke-width="0.25">2500</text>
<text x="278.8" y="580.6" font-size="8" font-weight="bold" text-anchor="middle" fill="#222"  stroke="#222" stroke-width="0.25">Hz</text>
<text x="19.7" y="430.6" font-size="8.3" font-weight="bold" text-anchor="start" fill="#222"  stroke="#222" stroke-width="0.25">%</text>
<text x="38.8" y="430.5" font-size="8" font-weight="bold" text-anchor="start" fill="#333" textLength="13.8" lengthAdjust="spacingAndGlyphs"  stroke="#333" stroke-width="0.25">n=1</text>
<text x="60.9" y="430.5" font-size="8" font-weight="bold" text-anchor="start" fill="#333" textLength="33.1" lengthAdjust="spacingAndGlyphs"  stroke="#333" stroke-width="0.25">Y=100%</text>
<text x="101.1" y="430.5" font-size="8" font-weight="bold" text-anchor="start" fill="#333" textLength="51.4" lengthAdjust="spacingAndGlyphs"  stroke="#333" stroke-width="0.25">347.8mA (eff)</text>
<rect x="23.75" y="471.7" width="3.1" height="110.7" fill="#12126c"/>
<line x1="25.3" y1="582.4" x2="25.3" y2="584.4" stroke="#12126c" stroke-width="1" opacity="0.6"/>
<rect x="33.73" y="501.0" width="3.1" height="81.4" fill="#12126c"/>
<line x1="35.3" y1="582.4" x2="35.3" y2="584.4" stroke="#12126c" stroke-width="1" opacity="0.6"/>
<rect x="43.71" y="516.3" width="3.1" height="66.1" fill="#12126c"/>
<line x1="45.3" y1="582.4" x2="45.3" y2="584.4" stroke="#12126c" stroke-width="1" opacity="0.6"/>
<rect x="53.69" y="524.9" width="3.1" height="57.5" fill="#12126c"/>
<line x1="55.2" y1="582.4" x2="55.2" y2="584.4" stroke="#12126c" stroke-width="1" opacity="0.6"/>
<rect x="63.67" y="535.5" width="3.1" height="46.9" fill="#12126c"/>
<line x1="65.2" y1="582.4" x2="65.2" y2="584.4" stroke="#12126c" stroke-width="1" opacity="0.6"/>
<rect x="73.65" y="552.8" width="3.1" height="29.6" fill="#12126c"/>
<line x1="75.2" y1="582.4" x2="75.2" y2="584.4" stroke="#12126c" stroke-width="1" opacity="0.6"/>
<rect x="83.63" y="560.0" width="3.1" height="22.4" fill="#12126c"/>
<line x1="85.2" y1="582.4" x2="85.2" y2="584.4" stroke="#12126c" stroke-width="1" opacity="0.6"/>
<rect x="93.61" y="550.7" width="3.1" height="31.7" fill="#12126c"/>
<line x1="95.2" y1="582.4" x2="95.2" y2="584.4" stroke="#12126c" stroke-width="1" opacity="0.6"/>
<rect x="103.59" y="546.4" width="3.1" height="36.0" fill="#12126c"/>
<line x1="105.1" y1="582.4" x2="105.1" y2="584.4" stroke="#12126c" stroke-width="1" opacity="0.6"/>
<rect x="113.57" y="549.3" width="3.1" height="33.1" fill="#12126c"/>
<line x1="115.1" y1="582.4" x2="115.1" y2="584.4" stroke="#12126c" stroke-width="1" opacity="0.6"/>
<rect x="123.55" y="556.5" width="3.1" height="25.9" fill="#12126c"/>
<line x1="125.1" y1="582.4" x2="125.1" y2="584.4" stroke="#12126c" stroke-width="1" opacity="0.6"/>
<rect x="143.51" y="559.4" width="3.1" height="23.0" fill="#12126c"/>
<line x1="145.1" y1="582.4" x2="145.1" y2="584.4" stroke="#12126c" stroke-width="1" opacity="0.6"/>
<rect x="153.49" y="554.5" width="3.1" height="27.9" fill="#12126c"/>
<line x1="155.0" y1="582.4" x2="155.0" y2="584.4" stroke="#12126c" stroke-width="1" opacity="0.6"/>
<rect x="163.47" y="556.5" width="3.1" height="25.9" fill="#12126c"/>
<line x1="165.0" y1="582.4" x2="165.0" y2="584.4" stroke="#12126c" stroke-width="1" opacity="0.6"/>
<rect x="173.45" y="564.5" width="3.1" height="17.9" fill="#12126c"/>
<line x1="175.0" y1="582.4" x2="175.0" y2="584.4" stroke="#12126c" stroke-width="1" opacity="0.6"/>
<rect x="183.43" y="565.1" width="3.1" height="17.3" fill="#12126c"/>
<line x1="185.0" y1="582.4" x2="185.0" y2="584.4" stroke="#12126c" stroke-width="1" opacity="0.6"/>
<rect x="193.41" y="566.6" width="3.1" height="15.8" fill="#12126c"/>
<line x1="195.0" y1="582.4" x2="195.0" y2="584.4" stroke="#12126c" stroke-width="1" opacity="0.6"/>
<rect x="203.39" y="560.8" width="3.1" height="21.6" fill="#12126c"/>
<line x1="204.9" y1="582.4" x2="204.9" y2="584.4" stroke="#12126c" stroke-width="1" opacity="0.6"/>
<rect x="208.38" y="579.5" width="3.1" height="2.9" fill="#12126c"/>
<line x1="209.9" y1="582.4" x2="209.9" y2="584.4" stroke="#12126c" stroke-width="1" opacity="0.6"/>
<rect x="213.37" y="555.6" width="3.1" height="26.8" fill="#12126c"/>
<line x1="214.9" y1="582.4" x2="214.9" y2="584.4" stroke="#12126c" stroke-width="1" opacity="0.6"/>
<rect x="223.35" y="568.0" width="3.1" height="14.4" fill="#12126c"/>
<line x1="224.9" y1="582.4" x2="224.9" y2="584.4" stroke="#12126c" stroke-width="1" opacity="0.6"/>
<rect x="233.33" y="574.3" width="3.1" height="8.1" fill="#12126c"/>
<line x1="234.9" y1="582.4" x2="234.9" y2="584.4" stroke="#12126c" stroke-width="1" opacity="0.6"/>
<rect x="243.31" y="581.0" width="3.1" height="1.4" fill="#12126c"/>
<line x1="244.9" y1="582.4" x2="244.9" y2="584.4" stroke="#12126c" stroke-width="1" opacity="0.6"/>
<rect x="253.29" y="560.2" width="3.1" height="22.2" fill="#12126c"/>
<line x1="254.8" y1="582.4" x2="254.8" y2="584.4" stroke="#12126c" stroke-width="1" opacity="0.6"/>
<rect x="263.27" y="561.4" width="3.1" height="21.0" fill="#12126c"/>
<line x1="264.8" y1="582.4" x2="264.8" y2="584.4" stroke="#12126c" stroke-width="1" opacity="0.6"/>
<line x1="25.3" y1="473" x2="25.3" y2="582.4" stroke="#3c50b0" stroke-width="1.7" stroke-dasharray="4 3" opacity="0.8"/>
<line x1="27.5" y1="453.0" x2="33.1" y2="453.0" stroke="#55557e" stroke-width="1.2"/>
<line x1="32.5" y1="440.7" x2="38.1" y2="440.7" stroke="#55557e" stroke-width="1.2"/>
<line x1="37.5" y1="467.4" x2="43.1" y2="467.4" stroke="#55557e" stroke-width="1.2"/>
<line x1="42.5" y1="452.2" x2="48.1" y2="452.2" stroke="#55557e" stroke-width="1.2"/>
<line x1="47.5" y1="473.2" x2="53.0" y2="473.2" stroke="#55557e" stroke-width="1.2"/>
<line x1="52.4" y1="457.9" x2="58.0" y2="457.9" stroke="#55557e" stroke-width="1.2"/>
<line x1="57.4" y1="477.5" x2="63.0" y2="477.5" stroke="#55557e" stroke-width="1.2"/>
<line x1="62.4" y1="468.9" x2="68.0" y2="468.9" stroke="#55557e" stroke-width="1.2"/>
<line x1="67.4" y1="481.2" x2="73.0" y2="481.2" stroke="#55557e" stroke-width="1.2"/>
<line x1="72.4" y1="472.0" x2="78.0" y2="472.0" stroke="#55557e" stroke-width="1.2"/>
<line x1="77.4" y1="484.7" x2="83.0" y2="484.7" stroke="#55557e" stroke-width="1.2"/>
<line x1="82.4" y1="479.5" x2="88.0" y2="479.5" stroke="#55557e" stroke-width="1.2"/>
<line x1="87.4" y1="487.5" x2="93.0" y2="487.5" stroke="#55557e" stroke-width="1.2"/>
<line x1="92.4" y1="484.7" x2="98.0" y2="484.7" stroke="#55557e" stroke-width="1.2"/>
<line x1="97.4" y1="489.0" x2="103.0" y2="489.0" stroke="#55557e" stroke-width="1.2"/>
<line x1="102.3" y1="486.1" x2="107.9" y2="486.1" stroke="#55557e" stroke-width="1.2"/>
<line x1="107.3" y1="491.0" x2="112.9" y2="491.0" stroke="#55557e" stroke-width="1.2"/>
<line x1="112.3" y1="488.1" x2="117.9" y2="488.1" stroke="#55557e" stroke-width="1.2"/>
<line x1="117.3" y1="492.7" x2="122.9" y2="492.7" stroke="#55557e" stroke-width="1.2"/>
<line x1="122.3" y1="489.8" x2="127.9" y2="489.8" stroke="#55557e" stroke-width="1.2"/>
<line x1="127.3" y1="494.1" x2="132.9" y2="494.1" stroke="#55557e" stroke-width="1.2"/>
<line x1="132.3" y1="491.0" x2="137.9" y2="491.0" stroke="#55557e" stroke-width="1.2"/>
<line x1="137.3" y1="496.1" x2="142.9" y2="496.1" stroke="#55557e" stroke-width="1.2"/>
<line x1="142.3" y1="492.7" x2="147.9" y2="492.7" stroke="#55557e" stroke-width="1.2"/>
<line x1="147.2" y1="497.1" x2="152.9" y2="497.1" stroke="#55557e" stroke-width="1.2"/>
<line x1="152.2" y1="493.7" x2="157.8" y2="493.7" stroke="#55557e" stroke-width="1.2"/>
<line x1="157.2" y1="498.1" x2="162.8" y2="498.1" stroke="#55557e" stroke-width="1.2"/>
<line x1="162.2" y1="494.8" x2="167.8" y2="494.8" stroke="#55557e" stroke-width="1.2"/>
<line x1="167.2" y1="499.0" x2="172.8" y2="499.0" stroke="#55557e" stroke-width="1.2"/>
<line x1="172.2" y1="495.8" x2="177.8" y2="495.8" stroke="#55557e" stroke-width="1.2"/>
<line x1="177.2" y1="500.0" x2="182.8" y2="500.0" stroke="#55557e" stroke-width="1.2"/>
<line x1="182.2" y1="496.8" x2="187.8" y2="496.8" stroke="#55557e" stroke-width="1.2"/>
<line x1="187.2" y1="501.0" x2="192.8" y2="501.0" stroke="#55557e" stroke-width="1.2"/>
<line x1="192.2" y1="497.8" x2="197.8" y2="497.8" stroke="#55557e" stroke-width="1.2"/>
<line x1="197.2" y1="501.9" x2="202.8" y2="501.9" stroke="#55557e" stroke-width="1.2"/>
<line x1="202.1" y1="498.9" x2="207.7" y2="498.9" stroke="#55557e" stroke-width="1.2"/>
<line x1="207.1" y1="502.9" x2="212.7" y2="502.9" stroke="#55557e" stroke-width="1.2"/>
<line x1="212.1" y1="499.9" x2="217.7" y2="499.9" stroke="#55557e" stroke-width="1.2"/>
<line x1="217.1" y1="503.9" x2="222.7" y2="503.9" stroke="#55557e" stroke-width="1.2"/>
<text x="217.5" y="449" font-size="17.8" font-weight="bold" text-anchor="start" fill="#000" textLength="63.5" lengthAdjust="spacingAndGlyphs" >Current</text>
<text x="210" y="472.5" font-size="17.8" font-weight="bold" text-anchor="start" fill="#000" textLength="79" lengthAdjust="spacingAndGlyphs" >spectrum</text>
<text x="157.5" y="476" font-size="14" font-weight="normal" text-anchor="start" fill="#000" textLength="36" lengthAdjust="spacingAndGlyphs" >Limits</text>
<text x="60.8" y="526" font-size="14" font-weight="normal" text-anchor="start" fill="#000" textLength="141.5" lengthAdjust="spacingAndGlyphs" >Spectrum components</text>
<text x="83.7" y="543.5" font-size="14" font-weight="normal" text-anchor="start" fill="#000" textLength="95" lengthAdjust="spacingAndGlyphs" >below limit line</text>
<polygon points="250.5,476.5 249.0,523.4 244.2,523.3 251.2,532.0 258.7,523.7 254.0,523.6 255.5,476.7" fill="#ee0c0c" stroke="none"/>
<polygon points="150.9,469.5 106.3,475.2 106.1,473.5 100.5,477.0 106.8,479.0 106.6,477.2 151.1,471.5" fill="#d81212" stroke="none"/>
<text x="35" y="620.7" font-size="17.5" font-weight="bold" text-anchor="start" fill="#000" textLength="76.3" lengthAdjust="spacingAndGlyphs" >With PFC</text>
<rect x="0" y="593.5" width="296" height="3.2" fill="#f3f1e7"/>
<line x1="0" y1="597.3" x2="299" y2="597.3" stroke="#4e4e48" stroke-width="1.4"/>
<rect x="296.8" y="414.5" width="2.2" height="183.5" fill="#8e8e84"/>
<rect x="299" y="414.5" width="1.5" height="183.5" fill="#efede3"/>
<line x1="346.7" y1="425" x2="346.7" y2="572.2" stroke="#c2c2c2" stroke-width="1" stroke-dasharray="1.6 2.1"/>
<line x1="370.0" y1="425" x2="370.0" y2="572.2" stroke="#c2c2c2" stroke-width="1" stroke-dasharray="1.6 2.1"/>
<line x1="393.4" y1="425" x2="393.4" y2="572.2" stroke="#c2c2c2" stroke-width="1" stroke-dasharray="1.6 2.1"/>
<line x1="416.7" y1="425" x2="416.7" y2="572.2" stroke="#c2c2c2" stroke-width="1" stroke-dasharray="1.6 2.1"/>
<line x1="440.0" y1="425" x2="440.0" y2="572.2" stroke="#c2c2c2" stroke-width="1" stroke-dasharray="1.6 2.1"/>
<line x1="463.3" y1="425" x2="463.3" y2="572.2" stroke="#c2c2c2" stroke-width="1" stroke-dasharray="1.6 2.1"/>
<line x1="486.6" y1="425" x2="486.6" y2="572.2" stroke="#c2c2c2" stroke-width="1" stroke-dasharray="1.6 2.1"/>
<line x1="510.0" y1="425" x2="510.0" y2="572.2" stroke="#c2c2c2" stroke-width="1" stroke-dasharray="1.6 2.1"/>
<line x1="533.3" y1="425" x2="533.3" y2="572.2" stroke="#c2c2c2" stroke-width="1" stroke-dasharray="1.6 2.1"/>
<line x1="556.6" y1="425" x2="556.6" y2="572.2" stroke="#c2c2c2" stroke-width="1" stroke-dasharray="1.6 2.1"/>
<line x1="323.4" y1="444.8" x2="566.6" y2="444.8" stroke="#c2c2c2" stroke-width="1" stroke-dasharray="1.6 2.1"/>
<line x1="323.4" y1="471.4" x2="566.6" y2="471.4" stroke="#c2c2c2" stroke-width="1" stroke-dasharray="1.6 2.1"/>
<line x1="323.4" y1="524.6" x2="566.6" y2="524.6" stroke="#c2c2c2" stroke-width="1" stroke-dasharray="1.6 2.1"/>
<line x1="323.4" y1="551.2" x2="566.6" y2="551.2" stroke="#c2c2c2" stroke-width="1" stroke-dasharray="1.6 2.1"/>
<rect x="398" y="441" width="118" height="47" fill="#fff"/>
<line x1="323.4" y1="498" x2="566.6" y2="498" stroke="#b4b4b4" stroke-width="1.4"/>
<line x1="323.4" y1="424.5" x2="323.4" y2="575.2" stroke="#555" stroke-width="1.3"/>
<line x1="321.4" y1="572.2" x2="566.6" y2="572.2" stroke="#555" stroke-width="1.3"/>
<line x1="323.4" y1="572.2" x2="323.4" y2="575.2" stroke="#555" stroke-width="1.2"/>
<text x="323.4" y="583.2" font-size="8.3" font-weight="bold" text-anchor="middle" fill="#222"  stroke="#222" stroke-width="0.25">0</text>
<line x1="346.7" y1="572.2" x2="346.7" y2="575.2" stroke="#555" stroke-width="1.2"/>
<text x="346.7" y="583.2" font-size="8.3" font-weight="bold" text-anchor="middle" fill="#222"  stroke="#222" stroke-width="0.25">2</text>
<line x1="370.0" y1="572.2" x2="370.0" y2="575.2" stroke="#555" stroke-width="1.2"/>
<text x="370.0" y="583.2" font-size="8.3" font-weight="bold" text-anchor="middle" fill="#222"  stroke="#222" stroke-width="0.25">4</text>
<line x1="393.4" y1="572.2" x2="393.4" y2="575.2" stroke="#555" stroke-width="1.2"/>
<text x="393.4" y="583.2" font-size="8.3" font-weight="bold" text-anchor="middle" fill="#222"  stroke="#222" stroke-width="0.25">6</text>
<line x1="416.7" y1="572.2" x2="416.7" y2="575.2" stroke="#555" stroke-width="1.2"/>
<text x="416.7" y="583.2" font-size="8.3" font-weight="bold" text-anchor="middle" fill="#222"  stroke="#222" stroke-width="0.25">8</text>
<line x1="440.0" y1="572.2" x2="440.0" y2="575.2" stroke="#555" stroke-width="1.2"/>
<text x="440.0" y="583.2" font-size="8.3" font-weight="bold" text-anchor="middle" fill="#222"  stroke="#222" stroke-width="0.25">10</text>
<line x1="463.3" y1="572.2" x2="463.3" y2="575.2" stroke="#555" stroke-width="1.2"/>
<text x="463.3" y="583.2" font-size="8.3" font-weight="bold" text-anchor="middle" fill="#222"  stroke="#222" stroke-width="0.25">12</text>
<line x1="486.6" y1="572.2" x2="486.6" y2="575.2" stroke="#555" stroke-width="1.2"/>
<text x="486.6" y="583.2" font-size="8.3" font-weight="bold" text-anchor="middle" fill="#222"  stroke="#222" stroke-width="0.25">14</text>
<line x1="510.0" y1="572.2" x2="510.0" y2="575.2" stroke="#555" stroke-width="1.2"/>
<text x="510.0" y="583.2" font-size="8.3" font-weight="bold" text-anchor="middle" fill="#222"  stroke="#222" stroke-width="0.25">16</text>
<line x1="533.3" y1="572.2" x2="533.3" y2="575.2" stroke="#555" stroke-width="1.2"/>
<text x="533.3" y="583.2" font-size="8.3" font-weight="bold" text-anchor="middle" fill="#222"  stroke="#222" stroke-width="0.25">18</text>
<line x1="556.6" y1="572.2" x2="556.6" y2="575.2" stroke="#555" stroke-width="1.2"/>
<text x="556.6" y="583.2" font-size="8.3" font-weight="bold" text-anchor="middle" fill="#222"  stroke="#222" stroke-width="0.25">20</text>
<line x1="320.4" y1="444.8" x2="323.4" y2="444.8" stroke="#555" stroke-width="1.2"/>
<text x="319.4" y="447.8" font-size="8.3" font-weight="bold" text-anchor="end" fill="#222"  stroke="#222" stroke-width="0.25">0.4</text>
<line x1="320.4" y1="471.4" x2="323.4" y2="471.4" stroke="#555" stroke-width="1.2"/>
<text x="319.4" y="474.4" font-size="8.3" font-weight="bold" text-anchor="end" fill="#222"  stroke="#222" stroke-width="0.25">0.2</text>
<line x1="320.4" y1="498.0" x2="323.4" y2="498.0" stroke="#555" stroke-width="1.2"/>
<text x="319.4" y="501.0" font-size="8.3" font-weight="bold" text-anchor="end" fill="#222"  stroke="#222" stroke-width="0.25">0</text>
<line x1="320.4" y1="524.6" x2="323.4" y2="524.6" stroke="#555" stroke-width="1.2"/>
<text x="319.4" y="527.6" font-size="8.3" font-weight="bold" text-anchor="end" fill="#222"  stroke="#222" stroke-width="0.25">-0.2</text>
<line x1="320.4" y1="551.2" x2="323.4" y2="551.2" stroke="#555" stroke-width="1.2"/>
<text x="319.4" y="554.2" font-size="8.3" font-weight="bold" text-anchor="end" fill="#222"  stroke="#222" stroke-width="0.25">-0.4</text>
<text x="572.9" y="570.0" font-size="8.3" font-weight="bold" text-anchor="middle" fill="#222"  stroke="#222" stroke-width="0.25">ms</text>
<text x="325.59999999999997" y="420.5" font-size="8.6" font-weight="bold" text-anchor="middle" fill="#222"  stroke="#222" stroke-width="0.25">A</text>
<text x="353" y="420.5" font-size="8" font-weight="normal" text-anchor="start" fill="#222" textLength="141" lengthAdjust="spacingAndGlyphs" xml:space="preserve" stroke="#222" stroke-width="0.35">X=0s  Y=528.1mA  ( 353.4mA RMS )</text>
<line x1="323.9" y1="425" x2="323.9" y2="572.2" stroke="#7c4a4a" stroke-width="1.2"/>
<line x1="323.7" y1="425" x2="323.7" y2="572.2" stroke="#331414" stroke-width="1.4" stroke-dasharray="3 1.8"/>
<polyline points="323.3,427.3 328.0,431.0 334.8,438.8 341.0,447.5 347.0,457.0 352.0,467.0 357.6,478.2 362.0,487.5 366.7,497.9 368.5,503.0 369.7,507.0 373.0,507.8 378.0,508.0 383.0,507.5 387.0,508.3 389.4,507.6 390.9,510.0 393.0,517.0 395.5,523.6 400.0,533.0 406.0,543.3 411.0,552.0 416.7,560.0 422.0,566.0 427.3,570.6 430.0,571.8 433.3,572.3 436.5,572.0 439.4,570.6 445.0,566.0 452.0,558.5 458.0,548.0 464.2,535.8 470.0,525.0 476.4,513.0 481.0,504.5 484.8,497.9 486.5,492.0 487.9,488.8 492.0,488.3 498.0,488.5 504.0,488.0 508.2,488.4 509.6,489.5 511.0,482.0 512.7,475.2 517.0,463.5 521.8,452.4 526.0,445.0 531.0,438.8 536.0,432.5 541.5,427.3 546.0,424.8 550.6,423.6 554.0,423.8 556.7,425.2" fill="none" stroke="#7878b4" stroke-width="1.3" stroke-linejoin="round"/>
<rect x="299.5" y="585" width="289.5" height="11" fill="#f2f1e8"/>
<rect x="299.5" y="585.3" width="9.3" height="9.0" fill="#fbfaf5"/>
<path d="M308.8,585.3 V594.3 H299.5" fill="none" stroke="#a59f8e" stroke-width="1.1"/>
<polygon points="305.1,587.6 305.1,592.2 302.1,589.9" fill="#111"/>
<rect x="310.1" y="585.3" width="10.0" height="9.0" fill="#fbfaf5"/>
<path d="M320.1,585.3 V594.3 H310.1" fill="none" stroke="#a59f8e" stroke-width="1.1"/>
<rect x="578.5" y="585.3" width="9.8" height="9.0" fill="#fbfaf5"/>
<path d="M588.3,585.3 V594.3 H578.5" fill="none" stroke="#a59f8e" stroke-width="1.1"/>
<polygon points="582.0,587.6 582.0,592.2 585.0,589.9" fill="#111"/>
<rect x="588.5" y="420" width="11.5" height="165" fill="#f5f4ee"/>
<rect x="589.0" y="574.4" width="9.3" height="9.8" fill="#fbfaf5"/>
<path d="M598.3,574.4 V584.2 H589.0" fill="none" stroke="#a59f8e" stroke-width="1.1"/>
<polygon points="591.2,578.0 596.2,578.0 593.7,581.0" fill="#111"/>
<rect x="589.2" y="585.8" width="10" height="9.4" fill="#c4c3c9"/>
<line x1="600.0" y1="420" x2="600.0" y2="596.5" stroke="#7d8176" stroke-width="1.1"/>
<line x1="295.5" y1="596.5" x2="600.5" y2="596.5" stroke="#4e4e48" stroke-width="1.4"/>
<text x="400" y="458.5" font-size="17.8" font-weight="bold" text-anchor="start" fill="#000" textLength="64" lengthAdjust="spacingAndGlyphs" >Current</text>
<text x="469.3" y="458.5" font-size="13.3" font-weight="bold" text-anchor="start" fill="#000" textLength="44" lengthAdjust="spacingAndGlyphs" >(almost</text>
<text x="427.8" y="482.8" font-size="13.3" font-weight="bold" text-anchor="start" fill="#000" textLength="58" lengthAdjust="spacingAndGlyphs" >sinewave)</text>
<polygon points="426.8,434.3 354.8,452.7 353.8,448.6 347.0,457.6 357.3,462.2 356.2,458.1 428.2,439.7" fill="#ee0c0c" stroke="none"/>
</svg>
</body></html>
